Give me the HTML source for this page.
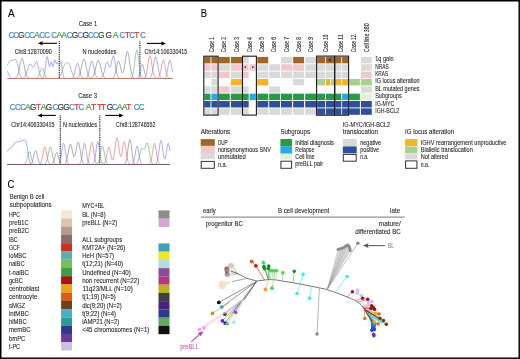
<!DOCTYPE html>
<html><head><meta charset="utf-8"><style>
html,body{margin:0;padding:0;background:#fff;}
body{width:520px;height:359px;overflow:hidden;position:relative;}
svg{position:absolute;left:0;top:0;will-change:transform;font-family:"Liberation Sans",sans-serif;}
.frame{position:absolute;left:0;top:0;width:520px;height:359px;box-sizing:border-box;border-top:1px solid #000;border-left:1px solid #000;border-right:2px solid #000;border-bottom:2px solid #000;}
</style></head><body>
<svg width="520" height="359" viewBox="0 0 520 359">
<text x="8" y="17" font-size="11" fill="#000" stroke="#000" stroke-width="0.1" text-anchor="start" textLength="6.60" lengthAdjust="spacingAndGlyphs" >A</text>
<text x="78.8" y="25.9" font-size="7.4" fill="#231f20" stroke="#231f20" stroke-width="0.1" text-anchor="start" textLength="18.40" lengthAdjust="spacingAndGlyphs" >Case 1</text>
<text x="78.3" y="98.4" font-size="7.4" fill="#231f20" stroke="#231f20" stroke-width="0.1" text-anchor="start" textLength="18.70" lengthAdjust="spacingAndGlyphs" >Case 3</text>
<text x="8.55" y="37.6" font-size="9.2" fill="#4a86c6" stroke="#4a86c6" stroke-width="0.2" textLength="5.71" lengthAdjust="spacingAndGlyphs">C</text>
<text x="13.15" y="37.6" font-size="9.2" fill="#4a86c6" stroke="#4a86c6" stroke-width="0.2" textLength="5.71" lengthAdjust="spacingAndGlyphs">C</text>
<text x="18.05" y="37.6" font-size="9.2" fill="#3a3a3a" stroke="#3a3a3a" stroke-width="0.2" textLength="6.44" lengthAdjust="spacingAndGlyphs">G</text>
<text x="24.15" y="37.6" font-size="9.2" fill="#4a86c6" stroke="#4a86c6" stroke-width="0.2" textLength="5.71" lengthAdjust="spacingAndGlyphs">C</text>
<text x="29.05" y="37.6" font-size="9.2" fill="#4a86c6" stroke="#4a86c6" stroke-width="0.2" textLength="5.71" lengthAdjust="spacingAndGlyphs">C</text>
<text x="34.00" y="37.6" font-size="9.2" fill="#3fa047" stroke="#3fa047" stroke-width="0.2" textLength="5.83" lengthAdjust="spacingAndGlyphs">A</text>
<text x="39.25" y="37.6" font-size="9.2" fill="#4a86c6" stroke="#4a86c6" stroke-width="0.2" textLength="5.71" lengthAdjust="spacingAndGlyphs">C</text>
<text x="44.15" y="37.6" font-size="9.2" fill="#4a86c6" stroke="#4a86c6" stroke-width="0.2" textLength="5.71" lengthAdjust="spacingAndGlyphs">C</text>
<text x="51.15" y="37.6" font-size="9.2" fill="#4a86c6" stroke="#4a86c6" stroke-width="0.2" textLength="5.71" lengthAdjust="spacingAndGlyphs">C</text>
<text x="56.40" y="37.6" font-size="9.2" fill="#3fa047" stroke="#3fa047" stroke-width="0.2" textLength="5.83" lengthAdjust="spacingAndGlyphs">A</text>
<text x="61.20" y="37.6" font-size="9.2" fill="#3fa047" stroke="#3fa047" stroke-width="0.2" textLength="5.83" lengthAdjust="spacingAndGlyphs">A</text>
<text x="66.85" y="37.6" font-size="9.2" fill="#4a86c6" stroke="#4a86c6" stroke-width="0.2" textLength="5.71" lengthAdjust="spacingAndGlyphs">C</text>
<text x="71.75" y="37.6" font-size="9.2" fill="#3a3a3a" stroke="#3a3a3a" stroke-width="0.2" textLength="6.44" lengthAdjust="spacingAndGlyphs">G</text>
<text x="77.55" y="37.6" font-size="9.2" fill="#4a86c6" stroke="#4a86c6" stroke-width="0.2" textLength="5.71" lengthAdjust="spacingAndGlyphs">C</text>
<text x="82.45" y="37.6" font-size="9.2" fill="#3a3a3a" stroke="#3a3a3a" stroke-width="0.2" textLength="6.44" lengthAdjust="spacingAndGlyphs">G</text>
<text x="88.05" y="37.6" font-size="9.2" fill="#4a86c6" stroke="#4a86c6" stroke-width="0.2" textLength="5.71" lengthAdjust="spacingAndGlyphs">C</text>
<text x="92.95" y="37.6" font-size="9.2" fill="#4a86c6" stroke="#4a86c6" stroke-width="0.2" textLength="5.71" lengthAdjust="spacingAndGlyphs">C</text>
<text x="97.95" y="37.6" font-size="9.2" fill="#3a3a3a" stroke="#3a3a3a" stroke-width="0.2" textLength="6.44" lengthAdjust="spacingAndGlyphs">G</text>
<text x="105.45" y="37.6" font-size="9.2" fill="#3a3a3a" stroke="#3a3a3a" stroke-width="0.2" textLength="6.44" lengthAdjust="spacingAndGlyphs">G</text>
<text x="112.70" y="37.6" font-size="9.2" fill="#3fa047" stroke="#3fa047" stroke-width="0.2" textLength="5.83" lengthAdjust="spacingAndGlyphs">A</text>
<text x="119.45" y="37.6" font-size="9.2" fill="#4a86c6" stroke="#4a86c6" stroke-width="0.2" textLength="5.71" lengthAdjust="spacingAndGlyphs">C</text>
<text x="125.10" y="37.6" font-size="9.2" fill="#e0322d" stroke="#e0322d" stroke-width="0.2" textLength="5.06" lengthAdjust="spacingAndGlyphs">T</text>
<text x="129.25" y="37.6" font-size="9.2" fill="#4a86c6" stroke="#4a86c6" stroke-width="0.2" textLength="5.71" lengthAdjust="spacingAndGlyphs">C</text>
<text x="134.30" y="37.6" font-size="9.2" fill="#e0322d" stroke="#e0322d" stroke-width="0.2" textLength="5.06" lengthAdjust="spacingAndGlyphs">T</text>
<text x="140.35" y="37.6" font-size="9.2" fill="#4a86c6" stroke="#4a86c6" stroke-width="0.2" textLength="5.71" lengthAdjust="spacingAndGlyphs">C</text>
<text x="9.75" y="109.6" font-size="9.2" fill="#4a86c6" stroke="#4a86c6" stroke-width="0.2" textLength="5.71" lengthAdjust="spacingAndGlyphs">C</text>
<text x="15.05" y="109.6" font-size="9.2" fill="#4a86c6" stroke="#4a86c6" stroke-width="0.2" textLength="5.71" lengthAdjust="spacingAndGlyphs">C</text>
<text x="20.15" y="109.6" font-size="9.2" fill="#4a86c6" stroke="#4a86c6" stroke-width="0.2" textLength="5.71" lengthAdjust="spacingAndGlyphs">C</text>
<text x="25.10" y="109.6" font-size="9.2" fill="#3fa047" stroke="#3fa047" stroke-width="0.2" textLength="5.83" lengthAdjust="spacingAndGlyphs">A</text>
<text x="30.05" y="109.6" font-size="9.2" fill="#3a3a3a" stroke="#3a3a3a" stroke-width="0.2" textLength="6.44" lengthAdjust="spacingAndGlyphs">G</text>
<text x="36.00" y="109.6" font-size="9.2" fill="#e0322d" stroke="#e0322d" stroke-width="0.2" textLength="5.06" lengthAdjust="spacingAndGlyphs">T</text>
<text x="40.70" y="109.6" font-size="9.2" fill="#3fa047" stroke="#3fa047" stroke-width="0.2" textLength="5.83" lengthAdjust="spacingAndGlyphs">A</text>
<text x="45.85" y="109.6" font-size="9.2" fill="#3a3a3a" stroke="#3a3a3a" stroke-width="0.2" textLength="6.44" lengthAdjust="spacingAndGlyphs">G</text>
<text x="52.55" y="109.6" font-size="9.2" fill="#4a86c6" stroke="#4a86c6" stroke-width="0.2" textLength="5.71" lengthAdjust="spacingAndGlyphs">C</text>
<text x="57.45" y="109.6" font-size="9.2" fill="#3a3a3a" stroke="#3a3a3a" stroke-width="0.2" textLength="6.44" lengthAdjust="spacingAndGlyphs">G</text>
<text x="63.25" y="109.6" font-size="9.2" fill="#3a3a3a" stroke="#3a3a3a" stroke-width="0.2" textLength="6.44" lengthAdjust="spacingAndGlyphs">G</text>
<text x="69.05" y="109.6" font-size="9.2" fill="#4a86c6" stroke="#4a86c6" stroke-width="0.2" textLength="5.71" lengthAdjust="spacingAndGlyphs">C</text>
<text x="74.30" y="109.6" font-size="9.2" fill="#e0322d" stroke="#e0322d" stroke-width="0.2" textLength="5.06" lengthAdjust="spacingAndGlyphs">T</text>
<text x="78.45" y="109.6" font-size="9.2" fill="#4a86c6" stroke="#4a86c6" stroke-width="0.2" textLength="5.71" lengthAdjust="spacingAndGlyphs">C</text>
<text x="85.80" y="109.6" font-size="9.2" fill="#3fa047" stroke="#3fa047" stroke-width="0.2" textLength="5.83" lengthAdjust="spacingAndGlyphs">A</text>
<text x="91.00" y="109.6" font-size="9.2" fill="#e0322d" stroke="#e0322d" stroke-width="0.2" textLength="5.06" lengthAdjust="spacingAndGlyphs">T</text>
<text x="97.20" y="109.6" font-size="9.2" fill="#e0322d" stroke="#e0322d" stroke-width="0.2" textLength="5.06" lengthAdjust="spacingAndGlyphs">T</text>
<text x="101.10" y="109.6" font-size="9.2" fill="#e0322d" stroke="#e0322d" stroke-width="0.2" textLength="5.06" lengthAdjust="spacingAndGlyphs">T</text>
<text x="106.85" y="109.6" font-size="9.2" fill="#3a3a3a" stroke="#3a3a3a" stroke-width="0.2" textLength="6.44" lengthAdjust="spacingAndGlyphs">G</text>
<text x="111.85" y="109.6" font-size="9.2" fill="#4a86c6" stroke="#4a86c6" stroke-width="0.2" textLength="5.71" lengthAdjust="spacingAndGlyphs">C</text>
<text x="116.80" y="109.6" font-size="9.2" fill="#3fa047" stroke="#3fa047" stroke-width="0.2" textLength="5.83" lengthAdjust="spacingAndGlyphs">A</text>
<text x="121.80" y="109.6" font-size="9.2" fill="#3fa047" stroke="#3fa047" stroke-width="0.2" textLength="5.83" lengthAdjust="spacingAndGlyphs">A</text>
<text x="126.30" y="109.6" font-size="9.2" fill="#e0322d" stroke="#e0322d" stroke-width="0.2" textLength="5.06" lengthAdjust="spacingAndGlyphs">T</text>
<text x="133.75" y="109.6" font-size="9.2" fill="#4a86c6" stroke="#4a86c6" stroke-width="0.2" textLength="5.71" lengthAdjust="spacingAndGlyphs">C</text>
<text x="138.75" y="109.6" font-size="9.2" fill="#4a86c6" stroke="#4a86c6" stroke-width="0.2" textLength="5.71" lengthAdjust="spacingAndGlyphs">C</text>
<text x="14.7" y="53.6" font-size="6.6" fill="#231f20" stroke="#231f20" stroke-width="0.1" text-anchor="start" textLength="37.10" lengthAdjust="spacingAndGlyphs" >Chr8:12870090</text>
<text x="82.4" y="53.8" font-size="6.6" fill="#231f20" stroke="#231f20" stroke-width="0.1" text-anchor="start" textLength="33.90" lengthAdjust="spacingAndGlyphs" >N nucleotides</text>
<text x="144.6" y="54.0" font-size="6.6" fill="#231f20" stroke="#231f20" stroke-width="0.1" text-anchor="start" textLength="42.70" lengthAdjust="spacingAndGlyphs" >Chr14:106330415</text>
<text x="11.3" y="126.7" font-size="6.6" fill="#231f20" stroke="#231f20" stroke-width="0.1" text-anchor="start" textLength="43.20" lengthAdjust="spacingAndGlyphs" >Chr14:406330415</text>
<text x="63" y="126.7" font-size="6.6" fill="#231f20" stroke="#231f20" stroke-width="0.1" text-anchor="start" textLength="34.00" lengthAdjust="spacingAndGlyphs" >N nucleotides</text>
<text x="116.1" y="126.7" font-size="6.6" fill="#231f20" stroke="#231f20" stroke-width="0.1" text-anchor="start" textLength="39.30" lengthAdjust="spacingAndGlyphs" >Chr8:128746552</text>
<line x1="41" y1="43.3" x2="57" y2="43.3" stroke="#000" stroke-width="1.1"/>
<path d="M38,43.3 L42.5,41.3 L42.5,45.3 Z" fill="#000"/>
<line x1="146.9" y1="43.4" x2="163" y2="43.4" stroke="#000" stroke-width="1.1"/>
<path d="M166,43.4 L161.5,41.4 L161.5,45.4 Z" fill="#000"/>
<line x1="40.5" y1="115.4" x2="55.8" y2="115.4" stroke="#000" stroke-width="1.1"/>
<path d="M37.5,115.4 L42.0,113.4 L42.0,117.4 Z" fill="#000"/>
<line x1="105.2" y1="115.4" x2="120.6" y2="115.4" stroke="#000" stroke-width="1.1"/>
<path d="M123.6,115.4 L119.1,113.4 L119.1,117.4 Z" fill="#000"/>
<line x1="59.3" y1="41.3" x2="59.3" y2="78" stroke="#111" stroke-width="1.1" stroke-dasharray="1 0.8"/>
<line x1="139.9" y1="41.4" x2="139.9" y2="77.8" stroke="#111" stroke-width="1.1" stroke-dasharray="1 0.8"/>
<line x1="60.3" y1="115.4" x2="60.3" y2="164.3" stroke="#111" stroke-width="1.1" stroke-dasharray="1 0.8"/>
<line x1="99.8" y1="115.4" x2="99.8" y2="164.3" stroke="#111" stroke-width="1.1" stroke-dasharray="1 0.8"/>
<polyline points="7.5,65.41 8.0,63.93 8.5,62.76 9.0,61.88 9.5,61.25 10.0,60.81 10.5,60.50 11.0,60.29 11.5,60.18 12.0,60.14 12.5,60.16 13.0,60.18 13.5,60.13 14.0,60.00 14.5,59.78 15.0,59.58 15.5,59.54 16.0,59.84 16.5,60.62 17.0,61.96 17.5,63.81 18.0,66.02 18.5,68.41 19.0,70.73 19.5,72.83 20.0,74.57 20.5,75.91 21.0,76.88 21.5,77.52 22.0,77.90 22.5,78.08 23.0,78.10 23.5,77.97 24.0,77.70 24.5,77.26 25.0,76.61 25.5,75.72 26.0,74.57 26.5,73.17 27.0,71.54 27.5,69.79 28.0,68.03 28.5,66.42 29.0,65.10 29.5,64.22 30.0,63.85 30.5,63.99 31.0,64.56 31.5,65.41 32.0,66.30 32.5,67.01 33.0,67.31 33.5,67.10 34.0,66.33 34.5,65.14 35.0,63.77 35.5,62.51 36.0,61.68 36.5,61.54 37.0,62.19 37.5,63.59 38.0,65.57 38.5,67.88 39.0,70.24 39.5,72.42 40.0,74.27 40.5,75.71 41.0,76.75 41.5,77.45 42.0,77.84 42.5,77.97 43.0,77.77 43.5,77.13 44.0,75.82 44.5,73.61 45.0,70.40 45.5,66.39 46.0,62.16 46.5,58.62 47.0,56.67 47.5,56.85 48.0,59.00 48.5,62.26 49.0,65.27 49.5,66.75 50.0,66.12 50.5,64.05 51.0,62.21 51.5,62.12 52.0,63.87 52.5,65.99 53.0,66.66 53.5,65.17 54.0,62.40 54.5,60.13 55.0,59.75 55.5,61.24 56.0,63.16 56.5,63.92 57.0,63.28 57.5,62.58 58.0,63.06 58.5,64.32 59.0,64.86 59.5,63.94 60.0,62.30 60.5,61.37 61.0,62.13 61.5,64.61 62.0,68.08 62.5,71.61 63.0,74.47 63.5,76.42 64.0,77.56 64.5,78.12 65.0,78.37 65.5,78.46 66.0,78.49 66.5,78.50 67.0,78.50 67.5,78.50 68.0,78.50 68.5,78.50 69.0,78.50 69.5,78.49 70.0,78.49 70.5,78.46 71.0,78.42 71.5,78.32 72.0,78.13 72.5,77.79 73.0,77.21 73.5,76.32 74.0,75.02 74.5,73.30 75.0,71.21 75.5,68.91 76.0,66.66 76.5,64.79 77.0,63.61 77.5,63.32 78.0,63.98 78.5,65.47 79.0,67.53 79.5,69.84 80.0,72.08 80.5,74.04 81.0,75.59 81.5,76.72 82.0,77.48 82.5,77.95 83.0,78.22 83.5,78.36 84.0,78.42 84.5,78.43 85.0,78.39 85.5,78.28 86.0,78.08 86.5,77.73 87.0,77.15 87.5,76.26 88.0,74.98 88.5,73.28 89.0,71.18 89.5,68.78 90.0,66.29 90.5,64.00 91.0,62.20 91.5,61.17 92.0,61.08 92.5,61.93 93.0,63.59 93.5,65.81 94.0,68.28 94.5,70.71 95.0,72.89 95.5,74.68 96.0,76.03 96.5,77.00 97.0,77.63 97.5,78.03 98.0,78.25 98.5,78.38 99.0,78.43 99.5,78.44 100.0,78.42 100.5,78.35 101.0,78.20 101.5,77.93 102.0,77.47 102.5,76.76 103.0,75.71 103.5,74.27 104.0,72.43 104.5,70.26 105.0,67.92 105.5,65.64 106.0,63.71 106.5,62.40 107.0,61.88 107.5,62.19 108.0,63.19 108.5,64.60 109.0,66.02 109.5,67.03 110.0,67.28 110.5,66.57 111.0,64.92 111.5,62.56 112.0,59.95 112.5,57.64 113.0,56.15 113.5,55.88 114.0,56.94 114.5,59.19 115.0,62.25 115.5,65.67 116.0,69.00 116.5,71.89 117.0,74.19 117.5,75.86 118.0,76.99 118.5,77.68 119.0,78.09 119.5,78.30 120.0,78.41 120.5,78.46 121.0,78.49 121.5,78.49 122.0,78.50 122.5,78.50 123.0,78.50 123.5,78.50 124.0,78.50 124.5,78.50 125.0,78.50 125.5,78.50 126.0,78.50 126.5,78.50 127.0,78.50 127.5,78.50 128.0,78.50 128.5,78.50 129.0,78.50 129.5,78.50 130.0,78.50 130.5,78.50 131.0,78.50 131.5,78.50 132.0,78.50 132.5,78.50 133.0,78.50 133.5,78.50 134.0,78.50 134.5,78.50 135.0,78.49 135.5,78.48 136.0,78.45 136.5,78.38 137.0,78.24 137.5,77.96 138.0,77.45 138.5,76.61 139.0,75.36 139.5,73.64 140.0,71.51 140.5,69.17 141.0,66.94 141.5,65.20 142.0,64.28 142.5,64.39 143.0,65.49 143.5,67.36 144.0,69.65 144.5,71.96 145.0,74.02 145.5,75.64 146.0,76.81 146.5,77.57 147.0,78.02 147.5,78.26 148.0,78.37 148.5,78.39 149.0,78.34 149.5,78.19 150.0,77.91 150.5,77.42 151.0,76.64 151.5,75.44 152.0,73.76 152.5,71.54 153.0,68.85 153.5,65.83 154.0,62.76 154.5,60.01 155.0,57.95 155.5,56.90 156.0,57.02 156.5,58.29 157.0,60.52 157.5,63.36 158.0,66.44 158.5,69.42 159.0,72.03 159.5,74.14 160.0,75.72 160.5,76.82 161.0,77.54 161.5,77.98 162.0,78.23 162.5,78.37 163.0,78.42 163.5,78.42 164.0,78.36 164.5,78.21 165.0,77.89 165.5,77.31 166.0,76.34 166.5,74.85 167.0,72.76 167.5,70.13 168.0,67.17 168.5,64.25 169.0,61.85 169.5,60.44 170.0,60.31 170.5,61.48 171.0,63.71 171.5,66.57 172.0,69.56 172.5,72.28" fill="none" stroke="#7474f2" stroke-width="0.6"/>
<polyline points="7.5,78.50 8.0,78.50 8.5,78.50 9.0,78.50 9.5,78.50 10.0,78.50 10.5,78.50 11.0,78.50 11.5,78.50 12.0,78.50 12.5,78.50 13.0,78.49 13.5,78.48 14.0,78.46 14.5,78.42 15.0,78.33 15.5,78.17 16.0,77.90 16.5,77.44 17.0,76.73 17.5,75.69 18.0,74.24 18.5,72.36 19.0,70.07 19.5,67.47 20.0,64.76 20.5,62.20 21.0,60.09 21.5,58.69 22.0,58.20 22.5,58.69 23.0,60.09 23.5,62.20 24.0,64.76 24.5,67.47 25.0,70.07 25.5,72.36 26.0,74.24 26.5,75.69 27.0,76.73 27.5,77.44 28.0,77.90 28.5,78.17 29.0,78.33 29.5,78.42 30.0,78.46 30.5,78.48 31.0,78.49 31.5,78.50 32.0,78.50 32.5,78.50 33.0,78.50 33.5,78.50 34.0,78.50 34.5,78.50 35.0,78.50 35.5,78.50 36.0,78.50 36.5,78.50 37.0,78.50 37.5,78.50 38.0,78.50 38.5,78.50 39.0,78.50 39.5,78.50 40.0,78.50 40.5,78.50 41.0,78.50 41.5,78.50 42.0,78.50 42.5,78.50 43.0,78.50 43.5,78.50 44.0,78.50 44.5,78.50 45.0,78.50 45.5,78.50 46.0,78.50 46.5,78.50 47.0,78.50 47.5,78.50 48.0,78.50 48.5,78.50 49.0,78.50 49.5,78.50 50.0,78.50 50.5,78.50 51.0,78.50 51.5,78.50 52.0,78.50 52.5,78.50 53.0,78.50 53.5,78.50 54.0,78.50 54.5,78.50 55.0,78.50 55.5,78.50 56.0,78.50 56.5,78.50 57.0,78.50 57.5,78.50 58.0,78.50 58.5,78.50 59.0,78.50 59.5,78.50 60.0,78.50 60.5,78.50 61.0,78.50 61.5,78.50 62.0,78.50 62.5,78.50 63.0,78.50 63.5,78.50 64.0,78.50 64.5,78.50 65.0,78.50 65.5,78.50 66.0,78.50 66.5,78.50 67.0,78.50 67.5,78.50 68.0,78.50 68.5,78.50 69.0,78.50 69.5,78.50 70.0,78.50 70.5,78.50 71.0,78.50 71.5,78.50 72.0,78.50 72.5,78.50 73.0,78.50 73.5,78.50 74.0,78.50 74.5,78.49 75.0,78.49 75.5,78.47 76.0,78.44 76.5,78.37 77.0,78.25 77.5,78.04 78.0,77.70 78.5,77.15 79.0,76.34 79.5,75.19 80.0,73.65 80.5,71.72 81.0,69.45 81.5,66.95 82.0,64.43 82.5,62.13 83.0,60.30 83.5,59.19 84.0,58.92 84.5,59.54 85.0,60.96 85.5,63.01 86.0,65.43 86.5,67.96 87.0,70.39 87.5,72.54 88.0,74.31 88.5,75.68 89.0,76.69 89.5,77.37 90.0,77.79 90.5,78.01 91.0,78.08 91.5,77.99 92.0,77.74 92.5,77.32 93.0,76.66 93.5,75.74 94.0,74.50 94.5,72.93 95.0,71.06 95.5,68.96 96.0,66.75 96.5,64.61 97.0,62.73 97.5,61.32 98.0,60.53 98.5,60.46 99.0,61.11 99.5,62.41 100.0,64.20 100.5,66.31 101.0,68.52 101.5,70.65 102.0,72.58 102.5,74.21 103.0,75.52 103.5,76.51 104.0,77.22 104.5,77.71 105.0,78.04 105.5,78.24 106.0,78.36 106.5,78.43 107.0,78.46 107.5,78.48 108.0,78.49 108.5,78.50 109.0,78.50 109.5,78.50 110.0,78.49 110.5,78.49 111.0,78.47 111.5,78.42 112.0,78.34 112.5,78.18 113.0,77.89 113.5,77.41 114.0,76.66 114.5,75.54 115.0,74.01 115.5,72.06 116.0,69.76 116.5,67.28 117.0,64.87 117.5,62.84 118.0,61.47 118.5,60.99 119.0,61.45 119.5,62.78 120.0,64.74 120.5,67.02 121.0,69.27 121.5,71.16 122.0,72.45 122.5,72.95 123.0,72.58 123.5,71.30 124.0,69.16 124.5,66.30 125.0,62.96 125.5,59.45 126.0,56.17 126.5,53.54 127.0,51.91 127.5,51.52 128.0,52.43 128.5,54.51 129.0,57.47 129.5,60.95 130.0,64.55 130.5,67.94 131.0,70.88 131.5,73.27 132.0,75.08 132.5,76.37 133.0,77.24 133.5,77.79 134.0,78.12 134.5,78.30 135.0,78.40 135.5,78.46 136.0,78.48 136.5,78.49 137.0,78.50 137.5,78.50 138.0,78.50 138.5,78.50 139.0,78.50 139.5,78.50 140.0,78.50 140.5,78.50 141.0,78.50 141.5,78.50 142.0,78.50 142.5,78.50 143.0,78.50 143.5,78.50 144.0,78.50 144.5,78.50 145.0,78.50 145.5,78.50 146.0,78.50 146.5,78.50 147.0,78.50 147.5,78.50 148.0,78.50 148.5,78.50 149.0,78.50 149.5,78.50 150.0,78.50 150.5,78.50 151.0,78.50 151.5,78.50 152.0,78.50 152.5,78.50 153.0,78.50 153.5,78.50 154.0,78.50 154.5,78.50 155.0,78.50 155.5,78.50 156.0,78.50 156.5,78.50 157.0,78.50 157.5,78.50 158.0,78.50 158.5,78.50 159.0,78.50 159.5,78.50 160.0,78.50 160.5,78.50 161.0,78.50 161.5,78.50 162.0,78.50 162.5,78.50 163.0,78.50 163.5,78.50 164.0,78.50 164.5,78.50 165.0,78.50 165.5,78.50 166.0,78.50 166.5,78.50 167.0,78.50 167.5,78.50 168.0,78.50 168.5,78.50 169.0,78.50 169.5,78.50 170.0,78.50 170.5,78.50 171.0,78.50 171.5,78.50 172.0,78.50 172.5,78.50" fill="none" stroke="#757575" stroke-width="0.6"/>
<polyline points="7.5,71.26 8.0,72.57 8.5,74.02 9.0,75.37 9.5,76.49 10.0,77.30 10.5,77.84 11.0,78.17 11.5,78.34 12.0,78.43 12.5,78.47 13.0,78.49 13.5,78.50 14.0,78.50 14.5,78.50 15.0,78.50 15.5,78.50 16.0,78.50 16.5,78.50 17.0,78.50 17.5,78.50 18.0,78.50 18.5,78.50 19.0,78.50 19.5,78.50 20.0,78.50 20.5,78.50 21.0,78.50 21.5,78.50 22.0,78.50 22.5,78.50 23.0,78.50 23.5,78.50 24.0,78.50 24.5,78.50 25.0,78.50 25.5,78.50 26.0,78.50 26.5,78.50 27.0,78.50 27.5,78.50 28.0,78.50 28.5,78.50 29.0,78.50 29.5,78.50 30.0,78.50 30.5,78.50 31.0,78.50 31.5,78.50 32.0,78.50 32.5,78.50 33.0,78.50 33.5,78.50 34.0,78.49 34.5,78.48 35.0,78.46 35.5,78.41 36.0,78.31 36.5,78.15 37.0,77.87 37.5,77.42 38.0,76.78 38.5,75.88 39.0,74.75 39.5,73.41 40.0,71.96 40.5,70.56 41.0,69.37 41.5,68.58 42.0,68.30 42.5,68.58 43.0,69.37 43.5,70.56 44.0,71.96 44.5,73.41 45.0,74.75 45.5,75.88 46.0,76.78 46.5,77.42 47.0,77.87 47.5,78.15 48.0,78.31 48.5,78.41 49.0,78.46 49.5,78.48 50.0,78.49 50.5,78.50 51.0,78.50 51.5,78.50 52.0,78.50 52.5,78.50 53.0,78.50 53.5,78.50 54.0,78.50 54.5,78.50 55.0,78.49 55.5,78.48 56.0,78.47 56.5,78.44 57.0,78.38 57.5,78.29 58.0,78.13 58.5,77.89 59.0,77.52 59.5,77.00 60.0,76.28 60.5,75.35 61.0,74.20 61.5,72.86 62.0,71.37 62.5,69.81 63.0,68.27 63.5,66.84 64.0,65.61 64.5,64.61 65.0,63.85 65.5,63.30 66.0,62.93 66.5,62.70 67.0,62.58 67.5,62.58 68.0,62.75 68.5,63.14 69.0,63.80 69.5,64.76 70.0,66.01 70.5,67.49 71.0,69.12 71.5,70.78 72.0,72.39 72.5,73.84 73.0,75.08 73.5,76.09 74.0,76.87 74.5,77.44 75.0,77.84 75.5,78.10 76.0,78.27 76.5,78.37 77.0,78.43 77.5,78.47 78.0,78.48 78.5,78.49 79.0,78.50 79.5,78.50 80.0,78.50 80.5,78.50 81.0,78.50 81.5,78.50 82.0,78.50 82.5,78.50 83.0,78.50 83.5,78.50 84.0,78.50 84.5,78.50 85.0,78.50 85.5,78.50 86.0,78.50 86.5,78.50 87.0,78.50 87.5,78.50 88.0,78.50 88.5,78.50 89.0,78.50 89.5,78.50 90.0,78.50 90.5,78.50 91.0,78.50 91.5,78.50 92.0,78.50 92.5,78.50 93.0,78.50 93.5,78.50 94.0,78.50 94.5,78.50 95.0,78.50 95.5,78.50 96.0,78.50 96.5,78.50 97.0,78.50 97.5,78.50 98.0,78.50 98.5,78.50 99.0,78.50 99.5,78.50 100.0,78.50 100.5,78.50 101.0,78.50 101.5,78.50 102.0,78.50 102.5,78.50 103.0,78.50 103.5,78.50 104.0,78.50 104.5,78.50 105.0,78.50 105.5,78.50 106.0,78.50 106.5,78.50 107.0,78.50 107.5,78.50 108.0,78.50 108.5,78.50 109.0,78.50 109.5,78.50 110.0,78.50 110.5,78.50 111.0,78.50 111.5,78.50 112.0,78.50 112.5,78.50 113.0,78.50 113.5,78.50 114.0,78.50 114.5,78.50 115.0,78.50 115.5,78.50 116.0,78.50 116.5,78.50 117.0,78.50 117.5,78.50 118.0,78.50 118.5,78.50 119.0,78.50 119.5,78.50 120.0,78.50 120.5,78.50 121.0,78.50 121.5,78.50 122.0,78.50 122.5,78.50 123.0,78.50 123.5,78.50 124.0,78.50 124.5,78.50 125.0,78.50 125.5,78.50 126.0,78.50 126.5,78.50 127.0,78.50 127.5,78.50 128.0,78.50 128.5,78.50 129.0,78.49 129.5,78.47 130.0,78.42 130.5,78.32 131.0,78.11 131.5,77.71 132.0,77.00 132.5,75.81 133.0,74.00 133.5,71.42 134.0,68.05 134.5,64.04 135.0,59.71 135.5,55.61 136.0,52.33 136.5,50.42 137.0,50.24 137.5,51.82 138.0,54.87 138.5,58.86 139.0,63.18 139.5,67.29 140.0,70.81 140.5,73.55 141.0,75.51 141.5,76.80 142.0,77.60 142.5,78.05 143.0,78.29 143.5,78.41 144.0,78.46 144.5,78.49 145.0,78.49 145.5,78.50 146.0,78.50 146.5,78.50 147.0,78.50 147.5,78.50 148.0,78.50 148.5,78.50 149.0,78.50 149.5,78.50 150.0,78.50 150.5,78.50 151.0,78.50 151.5,78.50 152.0,78.50 152.5,78.50 153.0,78.50 153.5,78.50 154.0,78.50 154.5,78.50 155.0,78.50 155.5,78.50 156.0,78.50 156.5,78.50 157.0,78.50 157.5,78.50 158.0,78.50 158.5,78.50 159.0,78.50 159.5,78.50 160.0,78.50 160.5,78.50 161.0,78.50 161.5,78.50 162.0,78.50 162.5,78.50 163.0,78.50 163.5,78.50 164.0,78.50 164.5,78.50 165.0,78.50 165.5,78.50 166.0,78.50 166.5,78.50 167.0,78.50 167.5,78.50 168.0,78.50 168.5,78.50 169.0,78.50 169.5,78.50 170.0,78.50 170.5,78.50 171.0,78.50 171.5,78.50 172.0,78.50 172.5,78.50" fill="none" stroke="#5aa870" stroke-width="0.6"/>
<polyline points="7.5,78.50 8.0,78.50 8.5,78.50 9.0,78.50 9.5,78.50 10.0,78.50 10.5,78.50 11.0,78.50 11.5,78.50 12.0,78.50 12.5,78.50 13.0,78.50 13.5,78.50 14.0,78.50 14.5,78.50 15.0,78.50 15.5,78.50 16.0,78.50 16.5,78.50 17.0,78.50 17.5,78.50 18.0,78.50 18.5,78.50 19.0,78.50 19.5,78.50 20.0,78.50 20.5,78.50 21.0,78.50 21.5,78.50 22.0,78.50 22.5,78.50 23.0,78.50 23.5,78.50 24.0,78.50 24.5,78.50 25.0,78.50 25.5,78.50 26.0,78.50 26.5,78.50 27.0,78.50 27.5,78.50 28.0,78.50 28.5,78.50 29.0,78.50 29.5,78.50 30.0,78.50 30.5,78.50 31.0,78.50 31.5,78.50 32.0,78.50 32.5,78.50 33.0,78.50 33.5,78.50 34.0,78.50 34.5,78.50 35.0,78.50 35.5,78.50 36.0,78.50 36.5,78.50 37.0,78.50 37.5,78.50 38.0,78.50 38.5,78.50 39.0,78.50 39.5,78.50 40.0,78.50 40.5,78.50 41.0,78.50 41.5,78.50 42.0,78.50 42.5,78.50 43.0,78.50 43.5,78.50 44.0,78.50 44.5,78.50 45.0,78.50 45.5,78.50 46.0,78.50 46.5,78.50 47.0,78.50 47.5,78.50 48.0,78.50 48.5,78.50 49.0,78.50 49.5,78.50 50.0,78.50 50.5,78.50 51.0,78.50 51.5,78.50 52.0,78.50 52.5,78.50 53.0,78.50 53.5,78.50 54.0,78.50 54.5,78.50 55.0,78.50 55.5,78.50 56.0,78.50 56.5,78.50 57.0,78.50 57.5,78.50 58.0,78.50 58.5,78.50 59.0,78.50 59.5,78.50 60.0,78.50 60.5,78.50 61.0,78.50 61.5,78.50 62.0,78.50 62.5,78.50 63.0,78.50 63.5,78.50 64.0,78.50 64.5,78.50 65.0,78.50 65.5,78.50 66.0,78.50 66.5,78.50 67.0,78.50 67.5,78.50 68.0,78.50 68.5,78.50 69.0,78.50 69.5,78.50 70.0,78.50 70.5,78.50 71.0,78.50 71.5,78.50 72.0,78.50 72.5,78.50 73.0,78.50 73.5,78.50 74.0,78.50 74.5,78.50 75.0,78.50 75.5,78.50 76.0,78.50 76.5,78.50 77.0,78.50 77.5,78.50 78.0,78.50 78.5,78.50 79.0,78.50 79.5,78.50 80.0,78.50 80.5,78.50 81.0,78.50 81.5,78.50 82.0,78.50 82.5,78.50 83.0,78.50 83.5,78.50 84.0,78.50 84.5,78.50 85.0,78.50 85.5,78.50 86.0,78.50 86.5,78.50 87.0,78.50 87.5,78.50 88.0,78.50 88.5,78.50 89.0,78.50 89.5,78.50 90.0,78.50 90.5,78.50 91.0,78.50 91.5,78.50 92.0,78.50 92.5,78.50 93.0,78.50 93.5,78.50 94.0,78.50 94.5,78.50 95.0,78.50 95.5,78.50 96.0,78.50 96.5,78.50 97.0,78.50 97.5,78.50 98.0,78.50 98.5,78.50 99.0,78.50 99.5,78.50 100.0,78.50 100.5,78.50 101.0,78.50 101.5,78.50 102.0,78.50 102.5,78.50 103.0,78.50 103.5,78.50 104.0,78.50 104.5,78.50 105.0,78.50 105.5,78.50 106.0,78.50 106.5,78.50 107.0,78.50 107.5,78.50 108.0,78.50 108.5,78.50 109.0,78.50 109.5,78.50 110.0,78.50 110.5,78.50 111.0,78.50 111.5,78.50 112.0,78.50 112.5,78.50 113.0,78.50 113.5,78.50 114.0,78.50 114.5,78.50 115.0,78.50 115.5,78.50 116.0,78.50 116.5,78.50 117.0,78.50 117.5,78.50 118.0,78.50 118.5,78.50 119.0,78.50 119.5,78.50 120.0,78.50 120.5,78.50 121.0,78.50 121.5,78.50 122.0,78.50 122.5,78.50 123.0,78.50 123.5,78.50 124.0,78.50 124.5,78.50 125.0,78.50 125.5,78.50 126.0,78.50 126.5,78.50 127.0,78.50 127.5,78.50 128.0,78.50 128.5,78.50 129.0,78.50 129.5,78.50 130.0,78.50 130.5,78.50 131.0,78.50 131.5,78.50 132.0,78.50 132.5,78.50 133.0,78.50 133.5,78.50 134.0,78.50 134.5,78.50 135.0,78.50 135.5,78.50 136.0,78.50 136.5,78.50 137.0,78.50 137.5,78.50 138.0,78.50 138.5,78.50 139.0,78.50 139.5,78.50 140.0,78.50 140.5,78.50 141.0,78.50 141.5,78.50 142.0,78.49 142.5,78.48 143.0,78.45 143.5,78.38 144.0,78.23 144.5,77.94 145.0,77.42 145.5,76.55 146.0,75.19 146.5,73.24 147.0,70.63 147.5,67.47 148.0,63.99 148.5,60.59 149.0,57.76 149.5,55.96 150.0,55.53 150.5,56.53 151.0,58.79 151.5,61.91 152.0,65.39 152.5,68.79 153.0,71.75 153.5,74.10 154.0,75.80 154.5,76.95 155.0,77.66 155.5,78.07 156.0,78.28 156.5,78.36 157.0,78.35 157.5,78.23 158.0,77.99 158.5,77.53 159.0,76.77 159.5,75.60 160.0,73.94 160.5,71.77 161.0,69.18 161.5,66.39 162.0,63.75 162.5,61.63 163.0,60.41 163.5,60.29 164.0,61.31 164.5,63.27 165.0,65.84 165.5,68.63 166.0,71.28 166.5,73.54 167.0,75.31 167.5,76.57 168.0,77.41 168.5,77.92 169.0,78.21 169.5,78.36 170.0,78.44 170.5,78.48 171.0,78.49 171.5,78.50 172.0,78.50 172.5,78.50" fill="none" stroke="#f25e5e" stroke-width="0.6"/>
<line x1="7.5" y1="78.5" x2="172.5" y2="78.5" stroke="#c06a60" stroke-width="0.5"/>
<polyline points="7.3,164.50 7.8,164.50 8.3,164.50 8.8,164.50 9.3,164.50 9.8,164.50 10.3,164.50 10.8,164.50 11.3,164.50 11.8,164.50 12.3,164.50 12.8,164.50 13.3,164.50 13.8,164.50 14.3,164.50 14.8,164.50 15.3,164.50 15.8,164.50 16.3,164.50 16.8,164.50 17.3,164.50 17.8,164.50 18.3,164.50 18.8,164.50 19.3,164.50 19.8,164.50 20.3,164.50 20.8,164.50 21.3,164.50 21.8,164.50 22.3,164.50 22.8,164.50 23.3,164.50 23.8,164.50 24.3,164.50 24.8,164.50 25.3,164.50 25.8,164.50 26.3,164.50 26.8,164.50 27.3,164.50 27.8,164.50 28.3,164.50 28.8,164.50 29.3,164.50 29.8,164.50 30.3,164.50 30.8,164.50 31.3,164.50 31.8,164.50 32.3,164.50 32.8,164.50 33.3,164.50 33.8,164.50 34.3,164.50 34.8,164.50 35.3,164.50 35.8,164.50 36.3,164.50 36.8,164.50 37.3,164.50 37.8,164.50 38.3,164.50 38.8,164.50 39.3,164.50 39.8,164.50 40.3,164.50 40.8,164.50 41.3,164.50 41.8,164.50 42.3,164.50 42.8,164.50 43.3,164.50 43.8,164.50 44.3,164.50 44.8,164.50 45.3,164.50 45.8,164.50 46.3,164.50 46.8,164.50 47.3,164.50 47.8,164.50 48.3,164.50 48.8,164.50 49.3,164.50 49.8,164.50 50.3,164.50 50.8,164.50 51.3,164.50 51.8,164.50 52.3,164.50 52.8,164.50 53.3,164.50 53.8,164.50 54.3,164.50 54.8,164.50 55.3,164.50 55.8,164.50 56.3,164.49 56.8,164.48 57.3,164.44 57.8,164.35 58.3,164.17 58.8,163.80 59.3,163.12 59.8,162.00 60.3,160.27 60.8,157.85 61.3,154.81 61.8,151.37 62.3,147.99 62.8,145.22 63.3,143.58 63.8,143.43 64.3,144.78 64.8,147.37 65.3,150.67 65.8,154.14 66.3,157.29 66.8,159.84 67.3,161.70 67.8,162.94 68.3,163.69 68.8,164.11 69.3,164.33 69.8,164.43 70.3,164.47 70.8,164.49 71.3,164.50 71.8,164.50 72.3,164.50 72.8,164.50 73.3,164.50 73.8,164.50 74.3,164.50 74.8,164.50 75.3,164.50 75.8,164.50 76.3,164.50 76.8,164.50 77.3,164.49 77.8,164.47 78.3,164.43 78.8,164.33 79.3,164.11 79.8,163.69 80.3,162.94 80.8,161.70 81.3,159.84 81.8,157.29 82.3,154.14 82.8,150.67 83.3,147.37 83.8,144.78 84.3,143.43 84.8,143.58 85.3,145.22 85.8,147.99 86.3,151.37 86.8,154.81 87.3,157.85 87.8,160.27 88.3,162.00 88.8,163.12 89.3,163.80 89.8,164.17 90.3,164.35 90.8,164.43 91.3,164.45 91.8,164.42 92.3,164.32 92.8,164.08 93.3,163.60 93.8,162.72 94.3,161.26 94.8,159.05 95.3,156.04 95.8,152.37 96.3,148.45 96.8,144.90 97.3,142.40 97.8,141.50 98.3,142.40 98.8,144.90 99.3,148.45 99.8,152.37 100.3,156.04 100.8,159.05 101.3,161.26 101.8,162.72 102.3,163.60 102.8,164.08 103.3,164.32 103.8,164.43 104.3,164.47 104.8,164.49 105.3,164.50 105.8,164.50 106.3,164.50 106.8,164.50 107.3,164.50 107.8,164.50 108.3,164.50 108.8,164.50 109.3,164.50 109.8,164.50 110.3,164.50 110.8,164.50 111.3,164.50 111.8,164.50 112.3,164.50 112.8,164.50 113.3,164.50 113.8,164.50 114.3,164.50 114.8,164.50 115.3,164.50 115.8,164.50 116.3,164.50 116.8,164.50 117.3,164.50 117.8,164.50 118.3,164.50 118.8,164.50 119.3,164.50 119.8,164.50 120.3,164.50 120.8,164.50 121.3,164.50 121.8,164.50 122.3,164.50 122.8,164.50 123.3,164.50 123.8,164.50 124.3,164.50 124.8,164.50 125.3,164.50 125.8,164.50 126.3,164.50 126.8,164.50 127.3,164.50 127.8,164.50 128.3,164.50 128.8,164.50 129.3,164.50 129.8,164.50 130.3,164.49 130.8,164.47 131.3,164.41 131.8,164.29 132.3,164.04 132.8,163.54 133.3,162.66 133.8,161.26 134.3,159.22 134.8,156.56 135.3,153.48 135.8,150.38 136.3,147.80 136.8,146.26 137.3,146.12 137.8,147.40 138.3,149.81 138.8,152.85 139.3,155.97 139.8,158.74 140.3,160.91 140.8,162.43 141.3,163.40 141.8,163.96 142.3,164.26 142.8,164.40 143.3,164.46 143.8,164.49 144.3,164.50 144.8,164.50 145.3,164.50 145.8,164.50 146.3,164.50 146.8,164.50 147.3,164.50 147.8,164.50 148.3,164.50 148.8,164.50 149.3,164.50 149.8,164.50 150.3,164.50 150.8,164.50 151.3,164.50 151.8,164.50 152.3,164.50 152.8,164.50 153.3,164.50 153.8,164.49 154.3,164.46 154.8,164.40 155.3,164.27 155.8,163.99 156.3,163.45 156.8,162.50 157.3,160.97 157.8,158.71 158.3,155.67 158.8,152.00 159.3,148.07 159.8,144.43 160.3,141.74 160.8,140.53 161.3,141.06 161.8,143.19 162.3,146.49 162.8,150.30 163.3,153.94 163.8,156.85 164.3,158.65 164.8,159.12 165.3,158.21 165.8,156.01 166.3,152.85 166.8,149.28 167.3,146.03 167.8,143.86 168.3,143.33 168.8,144.58 169.3,147.32 169.8,150.91" fill="none" stroke="#7474f2" stroke-width="0.6"/>
<polyline points="7.3,164.50 7.8,164.50 8.3,164.50 8.8,164.50 9.3,164.50 9.8,164.50 10.3,164.50 10.8,164.50 11.3,164.50 11.8,164.50 12.3,164.50 12.8,164.50 13.3,164.50 13.8,164.50 14.3,164.50 14.8,164.50 15.3,164.50 15.8,164.50 16.3,164.50 16.8,164.50 17.3,164.50 17.8,164.50 18.3,164.50 18.8,164.50 19.3,164.50 19.8,164.50 20.3,164.50 20.8,164.50 21.3,164.50 21.8,164.50 22.3,164.50 22.8,164.50 23.3,164.50 23.8,164.50 24.3,164.50 24.8,164.50 25.3,164.50 25.8,164.50 26.3,164.50 26.8,164.50 27.3,164.50 27.8,164.50 28.3,164.49 28.8,164.49 29.3,164.46 29.8,164.40 30.3,164.28 30.8,164.04 31.3,163.60 31.8,162.86 32.3,161.72 32.8,160.14 33.3,158.14 33.8,155.89 34.3,153.67 34.8,151.86 35.3,150.78 35.8,150.68 36.3,151.57 36.8,153.27 37.3,155.44 37.8,157.71 38.3,159.77 38.8,161.44 39.3,162.67 39.8,163.48 40.3,163.97 40.8,164.25 41.3,164.39 41.8,164.45 42.3,164.48 42.8,164.49 43.3,164.50 43.8,164.50 44.3,164.50 44.8,164.50 45.3,164.50 45.8,164.50 46.3,164.50 46.8,164.50 47.3,164.50 47.8,164.50 48.3,164.50 48.8,164.50 49.3,164.50 49.8,164.49 50.3,164.47 50.8,164.43 51.3,164.34 51.8,164.15 52.3,163.81 52.8,163.22 53.3,162.31 53.8,161.01 54.3,159.34 54.8,157.41 55.3,155.45 55.8,153.77 56.3,152.68 56.8,152.42 57.3,153.03 57.8,154.38 58.3,156.21 58.8,158.20 59.3,160.05 59.8,161.58 60.3,162.72 60.8,163.49 61.3,163.97 61.8,164.24 62.3,164.37 62.8,164.42 63.3,164.41 63.8,164.33 64.3,164.17 64.8,163.88 65.3,163.37 65.8,162.57 66.3,161.36 66.8,159.69 67.3,157.52 67.8,154.92 68.3,152.06 68.8,149.22 69.3,146.75 69.8,144.99 70.3,144.20 70.8,144.51 71.3,145.84 71.8,147.94 72.3,150.45 72.8,152.93 73.3,154.99 73.8,156.31 74.3,156.68 74.8,156.02 75.3,154.41 75.8,152.05 76.3,149.28 76.8,146.51 77.3,144.20 77.8,142.74 78.3,142.40 78.8,143.26 79.3,145.18 79.8,147.87 80.3,150.96 80.8,154.07 81.3,156.90 81.8,159.26 82.3,161.09 82.8,162.39 83.3,163.27 83.8,163.82 84.3,164.15 84.8,164.33 85.3,164.42 85.8,164.46 86.3,164.48 86.8,164.49 87.3,164.50 87.8,164.50 88.3,164.50 88.8,164.50 89.3,164.50 89.8,164.50 90.3,164.50 90.8,164.50 91.3,164.50 91.8,164.50 92.3,164.50 92.8,164.50 93.3,164.50 93.8,164.50 94.3,164.50 94.8,164.50 95.3,164.50 95.8,164.50 96.3,164.50 96.8,164.50 97.3,164.50 97.8,164.50 98.3,164.50 98.8,164.50 99.3,164.50 99.8,164.50 100.3,164.50 100.8,164.50 101.3,164.50 101.8,164.50 102.3,164.50 102.8,164.50 103.3,164.50 103.8,164.50 104.3,164.50 104.8,164.50 105.3,164.50 105.8,164.50 106.3,164.50 106.8,164.50 107.3,164.50 107.8,164.50 108.3,164.50 108.8,164.50 109.3,164.50 109.8,164.50 110.3,164.50 110.8,164.50 111.3,164.50 111.8,164.50 112.3,164.50 112.8,164.50 113.3,164.50 113.8,164.50 114.3,164.50 114.8,164.50 115.3,164.50 115.8,164.50 116.3,164.50 116.8,164.50 117.3,164.50 117.8,164.50 118.3,164.50 118.8,164.50 119.3,164.50 119.8,164.50 120.3,164.50 120.8,164.50 121.3,164.50 121.8,164.50 122.3,164.49 122.8,164.48 123.3,164.45 123.8,164.38 124.3,164.22 124.8,163.88 125.3,163.25 125.8,162.17 126.3,160.43 126.8,157.92 127.3,154.62 127.8,150.72 128.3,146.65 128.8,143.02 129.3,140.50 129.8,139.60 130.3,140.50 130.8,143.02 131.3,146.65 131.8,150.72 132.3,154.62 132.8,157.92 133.3,160.43 133.8,162.17 134.3,163.25 134.8,163.88 135.3,164.22 135.8,164.38 136.3,164.45 136.8,164.48 137.3,164.49 137.8,164.50 138.3,164.50 138.8,164.50 139.3,164.50 139.8,164.50 140.3,164.50 140.8,164.50 141.3,164.50 141.8,164.50 142.3,164.50 142.8,164.50 143.3,164.50 143.8,164.50 144.3,164.50 144.8,164.50 145.3,164.50 145.8,164.50 146.3,164.50 146.8,164.50 147.3,164.50 147.8,164.50 148.3,164.50 148.8,164.50 149.3,164.50 149.8,164.50 150.3,164.50 150.8,164.50 151.3,164.50 151.8,164.50 152.3,164.50 152.8,164.50 153.3,164.50 153.8,164.50 154.3,164.50 154.8,164.50 155.3,164.50 155.8,164.50 156.3,164.50 156.8,164.50 157.3,164.50 157.8,164.50 158.3,164.50 158.8,164.50 159.3,164.50 159.8,164.50 160.3,164.50 160.8,164.50 161.3,164.50 161.8,164.50 162.3,164.50 162.8,164.50 163.3,164.50 163.8,164.50 164.3,164.50 164.8,164.50 165.3,164.50 165.8,164.50 166.3,164.50 166.8,164.50 167.3,164.50 167.8,164.50 168.3,164.50 168.8,164.50 169.3,164.50 169.8,164.50" fill="none" stroke="#757575" stroke-width="0.6"/>
<polyline points="7.3,164.50 7.8,164.50 8.3,164.50 8.8,164.50 9.3,164.50 9.8,164.50 10.3,164.50 10.8,164.50 11.3,164.50 11.8,164.50 12.3,164.50 12.8,164.50 13.3,164.50 13.8,164.50 14.3,164.50 14.8,164.50 15.3,164.50 15.8,164.50 16.3,164.50 16.8,164.50 17.3,164.50 17.8,164.50 18.3,164.50 18.8,164.50 19.3,164.50 19.8,164.50 20.3,164.50 20.8,164.50 21.3,164.50 21.8,164.50 22.3,164.49 22.8,164.47 23.3,164.44 23.8,164.35 24.3,164.18 24.8,163.85 25.3,163.28 25.8,162.38 26.3,161.07 26.8,159.34 27.3,157.31 27.8,155.18 28.3,153.29 28.8,151.97 29.3,151.50 29.8,151.97 30.3,153.29 30.8,155.18 31.3,157.31 31.8,159.34 32.3,161.07 32.8,162.38 33.3,163.28 33.8,163.85 34.3,164.18 34.8,164.35 35.3,164.44 35.8,164.47 36.3,164.49 36.8,164.50 37.3,164.50 37.8,164.50 38.3,164.50 38.8,164.50 39.3,164.50 39.8,164.50 40.3,164.50 40.8,164.50 41.3,164.50 41.8,164.50 42.3,164.49 42.8,164.49 43.3,164.47 43.8,164.42 44.3,164.32 44.8,164.13 45.3,163.77 45.8,163.17 46.3,162.21 46.8,160.81 47.3,158.92 47.8,156.57 48.3,153.93 48.8,151.29 49.3,149.01 49.8,147.45 50.3,146.90 50.8,147.45 51.3,149.01 51.8,151.29 52.3,153.93 52.8,156.57 53.3,158.92 53.8,160.81 54.3,162.21 54.8,163.17 55.3,163.77 55.8,164.13 56.3,164.32 56.8,164.42 57.3,164.47 57.8,164.49 58.3,164.49 58.8,164.50 59.3,164.50 59.8,164.50 60.3,164.50 60.8,164.50 61.3,164.50 61.8,164.50 62.3,164.50 62.8,164.50 63.3,164.50 63.8,164.50 64.3,164.50 64.8,164.50 65.3,164.50 65.8,164.50 66.3,164.50 66.8,164.50 67.3,164.50 67.8,164.50 68.3,164.50 68.8,164.50 69.3,164.50 69.8,164.50 70.3,164.50 70.8,164.50 71.3,164.50 71.8,164.50 72.3,164.50 72.8,164.50 73.3,164.50 73.8,164.50 74.3,164.50 74.8,164.50 75.3,164.50 75.8,164.50 76.3,164.50 76.8,164.50 77.3,164.50 77.8,164.50 78.3,164.50 78.8,164.50 79.3,164.50 79.8,164.50 80.3,164.50 80.8,164.50 81.3,164.50 81.8,164.50 82.3,164.50 82.8,164.50 83.3,164.50 83.8,164.50 84.3,164.50 84.8,164.50 85.3,164.50 85.8,164.50 86.3,164.50 86.8,164.50 87.3,164.50 87.8,164.50 88.3,164.50 88.8,164.50 89.3,164.50 89.8,164.50 90.3,164.50 90.8,164.50 91.3,164.50 91.8,164.50 92.3,164.50 92.8,164.50 93.3,164.50 93.8,164.50 94.3,164.50 94.8,164.49 95.3,164.47 95.8,164.43 96.3,164.34 96.8,164.16 97.3,163.83 97.8,163.26 98.3,162.33 98.8,160.96 99.3,159.07 99.8,156.69 100.3,153.96 100.8,151.15 101.3,148.65 101.8,146.83 102.3,146.02 102.8,146.37 103.3,147.82 103.8,150.09 104.3,152.83 104.8,155.63 105.3,158.17 105.8,160.27 106.3,161.84 106.8,162.93 107.3,163.63 107.8,164.05 108.3,164.28 108.8,164.40 109.3,164.46 109.8,164.48 110.3,164.49 110.8,164.50 111.3,164.50 111.8,164.50 112.3,164.50 112.8,164.50 113.3,164.50 113.8,164.50 114.3,164.50 114.8,164.50 115.3,164.50 115.8,164.50 116.3,164.50 116.8,164.50 117.3,164.50 117.8,164.50 118.3,164.50 118.8,164.50 119.3,164.50 119.8,164.50 120.3,164.50 120.8,164.50 121.3,164.50 121.8,164.50 122.3,164.50 122.8,164.50 123.3,164.50 123.8,164.50 124.3,164.50 124.8,164.50 125.3,164.50 125.8,164.50 126.3,164.50 126.8,164.50 127.3,164.50 127.8,164.50 128.3,164.50 128.8,164.50 129.3,164.50 129.8,164.50 130.3,164.50 130.8,164.50 131.3,164.50 131.8,164.50 132.3,164.50 132.8,164.50 133.3,164.50 133.8,164.49 134.3,164.49 134.8,164.46 135.3,164.42 135.8,164.32 136.3,164.12 136.8,163.77 137.3,163.19 137.8,162.27 138.3,160.95 138.8,159.19 139.3,157.04 139.8,154.67 140.3,152.32 140.8,150.30 141.3,148.87 141.8,148.19 142.3,148.22 142.8,148.75 143.3,149.41 143.8,149.80 144.3,149.63 144.8,148.77 145.3,147.34 145.8,145.63 146.3,144.08 146.8,143.11 147.3,143.04 147.8,144.00 148.3,145.91 148.8,148.52 149.3,151.50 149.8,154.49 150.3,157.21 150.8,159.48 151.3,161.23 151.8,162.48 152.3,163.32 152.8,163.85 153.3,164.16 153.8,164.33 154.3,164.42 154.8,164.47 155.3,164.49 155.8,164.49 156.3,164.50 156.8,164.50 157.3,164.50 157.8,164.50 158.3,164.50 158.8,164.50 159.3,164.50 159.8,164.50 160.3,164.50 160.8,164.50 161.3,164.50 161.8,164.50 162.3,164.50 162.8,164.50 163.3,164.50 163.8,164.50 164.3,164.50 164.8,164.50 165.3,164.50 165.8,164.50 166.3,164.50 166.8,164.50 167.3,164.50 167.8,164.50 168.3,164.50 168.8,164.50 169.3,164.50 169.8,164.50" fill="none" stroke="#5aa870" stroke-width="0.6"/>
<polyline points="7.3,164.50 7.8,164.50 8.3,164.50 8.8,164.50 9.3,164.50 9.8,164.50 10.3,164.50 10.8,164.50 11.3,164.50 11.8,164.50 12.3,164.50 12.8,164.50 13.3,164.50 13.8,164.50 14.3,164.50 14.8,164.50 15.3,164.50 15.8,164.50 16.3,164.50 16.8,164.50 17.3,164.50 17.8,164.50 18.3,164.50 18.8,164.50 19.3,164.50 19.8,164.50 20.3,164.50 20.8,164.50 21.3,164.50 21.8,164.50 22.3,164.50 22.8,164.50 23.3,164.50 23.8,164.50 24.3,164.50 24.8,164.50 25.3,164.50 25.8,164.50 26.3,164.50 26.8,164.50 27.3,164.50 27.8,164.50 28.3,164.50 28.8,164.50 29.3,164.50 29.8,164.50 30.3,164.50 30.8,164.50 31.3,164.50 31.8,164.50 32.3,164.50 32.8,164.50 33.3,164.50 33.8,164.50 34.3,164.50 34.8,164.50 35.3,164.50 35.8,164.50 36.3,164.50 36.8,164.50 37.3,164.50 37.8,164.49 38.3,164.47 38.8,164.41 39.3,164.30 39.8,164.06 40.3,163.62 40.8,162.85 41.3,161.63 41.8,159.85 42.3,157.52 42.8,154.76 43.3,151.88 43.8,149.32 44.3,147.54 44.8,146.90 45.3,147.54 45.8,149.32 46.3,151.88 46.8,154.76 47.3,157.52 47.8,159.85 48.3,161.63 48.8,162.85 49.3,163.62 49.8,164.06 50.3,164.30 50.8,164.41 51.3,164.47 51.8,164.49 52.3,164.50 52.8,164.50 53.3,164.50 53.8,164.50 54.3,164.50 54.8,164.50 55.3,164.50 55.8,164.50 56.3,164.50 56.8,164.50 57.3,164.50 57.8,164.50 58.3,164.50 58.8,164.50 59.3,164.50 59.8,164.50 60.3,164.50 60.8,164.50 61.3,164.50 61.8,164.50 62.3,164.50 62.8,164.50 63.3,164.50 63.8,164.50 64.3,164.50 64.8,164.50 65.3,164.50 65.8,164.50 66.3,164.50 66.8,164.50 67.3,164.50 67.8,164.50 68.3,164.50 68.8,164.50 69.3,164.50 69.8,164.50 70.3,164.50 70.8,164.50 71.3,164.50 71.8,164.50 72.3,164.50 72.8,164.50 73.3,164.50 73.8,164.50 74.3,164.50 74.8,164.50 75.3,164.50 75.8,164.50 76.3,164.50 76.8,164.50 77.3,164.50 77.8,164.50 78.3,164.50 78.8,164.50 79.3,164.50 79.8,164.50 80.3,164.50 80.8,164.50 81.3,164.50 81.8,164.50 82.3,164.50 82.8,164.50 83.3,164.50 83.8,164.50 84.3,164.49 84.8,164.48 85.3,164.46 85.8,164.39 86.3,164.25 86.8,163.95 87.3,163.39 87.8,162.43 88.3,160.89 88.8,158.66 89.3,155.73 89.8,152.27 90.3,148.66 90.8,145.44 91.3,143.20 91.8,142.40 92.3,143.20 92.8,145.44 93.3,148.66 93.8,152.27 94.3,155.73 94.8,158.66 95.3,160.89 95.8,162.43 96.3,163.39 96.8,163.95 97.3,164.25 97.8,164.39 98.3,164.46 98.8,164.48 99.3,164.49 99.8,164.50 100.3,164.50 100.8,164.50 101.3,164.50 101.8,164.49 102.3,164.47 102.8,164.41 103.3,164.30 103.8,164.07 104.3,163.62 104.8,162.86 105.3,161.64 105.8,159.88 106.3,157.56 106.8,154.82 107.3,151.95 107.8,149.41 108.3,147.63 108.8,146.99 109.3,147.62 109.8,149.37 110.3,151.87 110.8,154.62 111.3,157.13 111.8,159.03 112.3,160.05 112.8,160.04 113.3,158.97 113.8,156.83 114.3,153.76 114.8,150.01 115.3,146.00 115.8,142.27 116.3,139.41 116.8,137.93 117.3,138.09 117.8,139.85 118.3,142.87 118.8,146.58 119.3,150.33 119.8,153.53 120.3,155.69 120.8,156.51 121.3,155.90 121.8,153.96 122.3,151.03 122.8,147.65 123.3,144.49 123.8,142.26 124.3,141.47 124.8,142.32 125.3,144.66 125.8,148.01 126.3,151.77 126.8,155.38 127.3,158.43 127.8,160.74 128.3,162.34 128.8,163.35 129.3,163.93 129.8,164.24 130.3,164.39 130.8,164.46 131.3,164.48 131.8,164.49 132.3,164.50 132.8,164.50 133.3,164.50 133.8,164.50 134.3,164.50 134.8,164.50 135.3,164.50 135.8,164.50 136.3,164.50 136.8,164.50 137.3,164.50 137.8,164.50 138.3,164.50 138.8,164.50 139.3,164.50 139.8,164.50 140.3,164.50 140.8,164.50 141.3,164.50 141.8,164.50 142.3,164.50 142.8,164.50 143.3,164.50 143.8,164.50 144.3,164.50 144.8,164.50 145.3,164.50 145.8,164.50 146.3,164.50 146.8,164.50 147.3,164.49 147.8,164.47 148.3,164.43 148.8,164.33 149.3,164.11 149.8,163.69 150.3,162.94 150.8,161.70 151.3,159.84 151.8,157.29 152.3,154.14 152.8,150.67 153.3,147.37 153.8,144.78 154.3,143.43 154.8,143.58 155.3,145.22 155.8,147.99 156.3,151.37 156.8,154.81 157.3,157.85 157.8,160.27 158.3,162.00 158.8,163.12 159.3,163.80 159.8,164.17 160.3,164.35 160.8,164.44 161.3,164.48 161.8,164.49 162.3,164.50 162.8,164.50 163.3,164.50 163.8,164.50 164.3,164.50 164.8,164.50 165.3,164.50 165.8,164.50 166.3,164.50 166.8,164.50 167.3,164.50 167.8,164.50 168.3,164.50 168.8,164.50 169.3,164.50 169.8,164.50" fill="none" stroke="#f25e5e" stroke-width="0.6"/>
<polyline points="7.3,151.5 8.5,149.6 10,148.4 11.5,147.6 13,145.6 14.5,143.4 16,142.3 18,141.6 20,141.4 22,140.6 24.2,139.7 25.5,140.5 26.5,143.5 27.5,149 28.5,156 29.5,161.5 30.5,164 31.5,164.5" fill="none" stroke="#7474f2" stroke-width="0.6"/>
<line x1="7.3" y1="164.5" x2="170" y2="164.5" stroke="#4a4060" stroke-width="0.6"/>
<text x="200.8" y="17.3" font-size="11" fill="#000" stroke="#000" stroke-width="0.1" text-anchor="start" textLength="6.30" lengthAdjust="spacingAndGlyphs" >B</text>
<rect x="204.30" y="56.90" width="6.20" height="6.45" fill="#a0652b"/>
<rect x="211.40" y="56.90" width="6.20" height="6.45" fill="#a0652b"/>
<rect x="218.80" y="56.90" width="11.00" height="6.45" fill="#a0652b"/>
<rect x="231.00" y="56.90" width="11.00" height="6.45" fill="#a0652b"/>
<rect x="243.10" y="56.90" width="5.60" height="6.45" fill="#d9d9d9"/>
<rect x="257.30" y="56.90" width="10.90" height="6.45" fill="#a0652b"/>
<rect x="281.00" y="56.90" width="11.00" height="6.45" fill="#d9d9d9"/>
<rect x="293.10" y="56.90" width="10.90" height="6.45" fill="#a0652b"/>
<rect x="305.20" y="56.90" width="10.80" height="6.45" fill="#d9d9d9"/>
<rect x="317.20" y="56.90" width="8.00" height="6.45" fill="#a0652b"/>
<rect x="326.00" y="56.90" width="8.00" height="6.45" fill="#a0652b"/>
<rect x="335.30" y="56.90" width="6.00" height="6.45" fill="#a0652b"/>
<rect x="342.10" y="56.90" width="5.90" height="6.45" fill="#a0652b"/>
<rect x="361.00" y="56.90" width="10.80" height="6.45" fill="#d9d9d9"/>
<rect x="204.30" y="64.25" width="6.20" height="6.45" fill="#f1c9cd"/>
<rect x="211.40" y="64.25" width="6.20" height="6.45" fill="#f1c9cd"/>
<rect x="218.80" y="64.25" width="11.00" height="6.45" fill="#d9d9d9"/>
<rect x="231.00" y="64.25" width="11.00" height="6.45" fill="#f1c9cd"/>
<rect x="243.10" y="64.25" width="5.60" height="6.45" fill="#f1c9cd"/>
<rect x="249.60" y="64.25" width="6.10" height="6.45" fill="#f1c9cd"/>
<rect x="257.30" y="64.25" width="10.90" height="6.45" fill="#d9d9d9"/>
<rect x="269.20" y="64.25" width="10.80" height="6.45" fill="#d9d9d9"/>
<rect x="281.00" y="64.25" width="11.00" height="6.45" fill="#f1c9cd"/>
<rect x="293.10" y="64.25" width="10.90" height="6.45" fill="#f1c9cd"/>
<rect x="305.20" y="64.25" width="10.80" height="6.45" fill="#d9d9d9"/>
<rect x="317.20" y="64.25" width="8.00" height="6.45" fill="#d9d9d9"/>
<rect x="326.00" y="64.25" width="8.00" height="6.45" fill="#d9d9d9"/>
<rect x="335.30" y="64.25" width="6.00" height="6.45" fill="#d9d9d9"/>
<rect x="342.10" y="64.25" width="5.90" height="6.45" fill="#d9d9d9"/>
<rect x="361.00" y="64.25" width="10.80" height="6.45" fill="#d9d9d9"/>
<rect x="204.30" y="71.60" width="6.20" height="6.45" fill="#d9d9d9"/>
<rect x="211.40" y="71.60" width="6.20" height="6.45" fill="#d9d9d9"/>
<rect x="218.80" y="71.60" width="11.00" height="6.45" fill="#f1c9cd"/>
<rect x="231.00" y="71.60" width="11.00" height="6.45" fill="#d9d9d9"/>
<rect x="243.10" y="71.60" width="5.60" height="6.45" fill="#f1c9cd"/>
<rect x="257.30" y="71.60" width="10.90" height="6.45" fill="#d9d9d9"/>
<rect x="269.20" y="71.60" width="10.80" height="6.45" fill="#d9d9d9"/>
<rect x="281.00" y="71.60" width="11.00" height="6.45" fill="#d9d9d9"/>
<rect x="293.10" y="71.60" width="10.90" height="6.45" fill="#d9d9d9"/>
<rect x="305.20" y="71.60" width="10.80" height="6.45" fill="#d9d9d9"/>
<rect x="317.20" y="71.60" width="8.00" height="6.45" fill="#d9d9d9"/>
<rect x="326.00" y="71.60" width="8.00" height="6.45" fill="#d9d9d9"/>
<rect x="335.30" y="71.60" width="6.00" height="6.45" fill="#d9d9d9"/>
<rect x="342.10" y="71.60" width="5.90" height="6.45" fill="#d9d9d9"/>
<rect x="361.00" y="71.60" width="10.80" height="6.45" fill="#f1c9cd"/>
<rect x="211.40" y="78.95" width="6.20" height="6.45" fill="#d9d9d9"/>
<rect x="231.00" y="78.95" width="11.00" height="6.45" fill="#f0b51f"/>
<rect x="257.30" y="78.95" width="10.90" height="6.45" fill="#f0b51f"/>
<rect x="293.10" y="78.95" width="10.90" height="6.45" fill="#d9d9d9"/>
<rect x="317.20" y="78.95" width="8.00" height="6.45" fill="#a9d18e"/>
<rect x="326.00" y="78.95" width="4.20" height="6.45" fill="#f0b51f"/>
<rect x="330.90" y="78.95" width="3.10" height="6.45" fill="#a9d18e"/>
<rect x="335.30" y="78.95" width="6.00" height="6.45" fill="#f0b51f"/>
<rect x="342.10" y="78.95" width="5.90" height="6.45" fill="#f0b51f"/>
<rect x="349.10" y="78.95" width="10.80" height="6.45" fill="#a9d18e"/>
<rect x="361.00" y="78.95" width="10.80" height="6.45" fill="#a9d18e"/>
<rect x="204.30" y="86.30" width="6.20" height="6.45" fill="#d9d9d9"/>
<rect x="211.40" y="86.30" width="6.20" height="6.45" fill="#d9d9d9"/>
<rect x="218.80" y="86.30" width="11.00" height="6.45" fill="#f1c9cd"/>
<rect x="231.00" y="86.30" width="11.00" height="6.45" fill="#d9d9d9"/>
<rect x="243.10" y="86.30" width="5.60" height="6.45" fill="#d9d9d9"/>
<rect x="269.20" y="86.30" width="10.80" height="6.45" fill="#d9d9d9"/>
<rect x="361.00" y="86.30" width="10.80" height="6.45" fill="#d9d9d9"/>
<rect x="204.30" y="93.65" width="6.20" height="6.45" fill="#279a45"/>
<rect x="211.40" y="93.65" width="6.20" height="6.45" fill="#27a9e6"/>
<rect x="218.80" y="93.65" width="11.00" height="6.45" fill="#279a45"/>
<rect x="231.00" y="93.65" width="11.00" height="6.45" fill="#279a45"/>
<rect x="243.10" y="93.65" width="5.60" height="6.45" fill="#279a45"/>
<rect x="249.60" y="93.65" width="6.10" height="6.45" fill="#27a9e6"/>
<rect x="257.30" y="93.65" width="10.90" height="6.45" fill="#279a45"/>
<rect x="269.20" y="93.65" width="10.80" height="6.45" fill="#279a45"/>
<rect x="281.00" y="93.65" width="11.00" height="6.45" fill="#279a45"/>
<rect x="293.10" y="93.65" width="10.90" height="6.45" fill="#279a45"/>
<rect x="305.20" y="93.65" width="10.80" height="6.45" fill="#279a45"/>
<rect x="317.20" y="93.65" width="8.00" height="6.45" fill="#279a45"/>
<rect x="326.00" y="93.65" width="8.00" height="6.45" fill="#279a45"/>
<rect x="335.30" y="93.65" width="6.00" height="6.45" fill="#279a45"/>
<rect x="342.10" y="93.65" width="5.90" height="6.45" fill="#27a9e6"/>
<rect x="349.10" y="93.65" width="10.80" height="6.45" fill="#279a45"/>
<rect x="361.00" y="93.65" width="10.80" height="6.45" fill="#e2efd9"/>
<rect x="204.30" y="101.00" width="6.20" height="6.45" fill="#2d4f9c"/>
<rect x="211.40" y="101.00" width="6.20" height="6.45" fill="#2d4f9c"/>
<rect x="218.80" y="101.00" width="11.00" height="6.45" fill="#2d4f9c"/>
<rect x="231.00" y="101.00" width="11.00" height="6.45" fill="#2d4f9c"/>
<rect x="243.10" y="101.00" width="5.60" height="6.45" fill="#2d4f9c"/>
<rect x="257.30" y="101.00" width="10.90" height="6.45" fill="#2d4f9c"/>
<rect x="269.20" y="101.00" width="10.80" height="6.45" fill="#2d4f9c"/>
<rect x="281.00" y="101.00" width="11.00" height="6.45" fill="#2d4f9c"/>
<rect x="293.10" y="101.00" width="10.90" height="6.45" fill="#2d4f9c"/>
<rect x="305.20" y="101.00" width="10.80" height="6.45" fill="#2d4f9c"/>
<rect x="317.20" y="101.00" width="8.00" height="6.45" fill="#2d4f9c"/>
<rect x="326.00" y="101.00" width="8.00" height="6.45" fill="#2d4f9c"/>
<rect x="335.30" y="101.00" width="6.00" height="6.45" fill="#2d4f9c"/>
<rect x="342.10" y="101.00" width="5.90" height="6.45" fill="#2d4f9c"/>
<rect x="349.10" y="101.00" width="10.80" height="6.45" fill="#2d4f9c"/>
<rect x="361.00" y="101.00" width="10.80" height="6.45" fill="#2d4f9c"/>
<rect x="204.30" y="108.35" width="6.20" height="6.45" fill="#d9d9d9"/>
<rect x="211.40" y="108.35" width="6.20" height="6.45" fill="#d9d9d9"/>
<rect x="218.80" y="108.35" width="11.00" height="6.45" fill="#d9d9d9"/>
<rect x="231.00" y="108.35" width="11.00" height="6.45" fill="#d9d9d9"/>
<rect x="243.10" y="108.35" width="5.60" height="6.45" fill="#d9d9d9"/>
<rect x="257.30" y="108.35" width="10.90" height="6.45" fill="#d9d9d9"/>
<rect x="269.20" y="108.35" width="10.80" height="6.45" fill="#d9d9d9"/>
<rect x="281.00" y="108.35" width="11.00" height="6.45" fill="#d9d9d9"/>
<rect x="293.10" y="108.35" width="10.90" height="6.45" fill="#d9d9d9"/>
<rect x="305.20" y="108.35" width="10.80" height="6.45" fill="#d9d9d9"/>
<rect x="317.20" y="108.35" width="8.00" height="6.45" fill="#2d4f9c"/>
<rect x="326.00" y="108.35" width="8.00" height="6.45" fill="#2d4f9c"/>
<rect x="335.30" y="108.35" width="6.00" height="6.45" fill="#2d4f9c"/>
<rect x="342.10" y="108.35" width="5.90" height="6.45" fill="#2d4f9c"/>
<rect x="349.10" y="108.35" width="10.80" height="6.45" fill="#2d4f9c"/>
<rect x="361.00" y="108.35" width="10.80" height="6.45" fill="#2d4f9c"/>
<circle cx="245.3" cy="67.1" r="0.85" fill="#333"/>
<circle cx="252.8" cy="67.1" r="0.85" fill="#333"/>
<text x="328.6" y="62.2" font-size="5" fill="#222" font-style="italic">#</text>
<rect x="203.8" y="56.2" width="14.299999999999983" height="58.89999999999999" fill="none" stroke="#1a1a1a" stroke-width="1.1"/>
<rect x="242.5" y="56.2" width="13.899999999999977" height="58.89999999999999" fill="none" stroke="#1a1a1a" stroke-width="1.1"/>
<rect x="316.6" y="56.1" width="18.099999999999966" height="59.1" fill="none" stroke="#1a1a1a" stroke-width="1.1"/>
<rect x="334.7" y="56.1" width="13.900000000000034" height="59.1" fill="none" stroke="#1a1a1a" stroke-width="1.1"/>
<text transform="translate(213.6,52.2) rotate(-90)" x="0" y="0" font-size="6.4" fill="#231f20" stroke="#231f20" stroke-width="0.1" textLength="15" lengthAdjust="spacingAndGlyphs">Case 1</text>
<text transform="translate(226.1,52.2) rotate(-90)" x="0" y="0" font-size="6.4" fill="#231f20" stroke="#231f20" stroke-width="0.1" textLength="15" lengthAdjust="spacingAndGlyphs">Case 2</text>
<text transform="translate(238.6,52.2) rotate(-90)" x="0" y="0" font-size="6.4" fill="#231f20" stroke="#231f20" stroke-width="0.1" textLength="15" lengthAdjust="spacingAndGlyphs">Case 3</text>
<text transform="translate(251.5,52.2) rotate(-90)" x="0" y="0" font-size="6.4" fill="#231f20" stroke="#231f20" stroke-width="0.1" textLength="15" lengthAdjust="spacingAndGlyphs">Case 4</text>
<text transform="translate(263.59999999999997,52.2) rotate(-90)" x="0" y="0" font-size="6.4" fill="#231f20" stroke="#231f20" stroke-width="0.1" textLength="15" lengthAdjust="spacingAndGlyphs">Case 5</text>
<text transform="translate(276.09999999999997,52.2) rotate(-90)" x="0" y="0" font-size="6.4" fill="#231f20" stroke="#231f20" stroke-width="0.1" textLength="15" lengthAdjust="spacingAndGlyphs">Case 6</text>
<text transform="translate(288.59999999999997,52.2) rotate(-90)" x="0" y="0" font-size="6.4" fill="#231f20" stroke="#231f20" stroke-width="0.1" textLength="15" lengthAdjust="spacingAndGlyphs">Case 7</text>
<text transform="translate(300.8,52.2) rotate(-90)" x="0" y="0" font-size="6.4" fill="#231f20" stroke="#231f20" stroke-width="0.1" textLength="15" lengthAdjust="spacingAndGlyphs">Case 8</text>
<text transform="translate(312.9,52.2) rotate(-90)" x="0" y="0" font-size="6.4" fill="#231f20" stroke="#231f20" stroke-width="0.1" textLength="15" lengthAdjust="spacingAndGlyphs">Case 9</text>
<text transform="translate(328.3,52.2) rotate(-90)" x="0" y="0" font-size="6.4" fill="#231f20" stroke="#231f20" stroke-width="0.1" textLength="17.5" lengthAdjust="spacingAndGlyphs">Case 10</text>
<text transform="translate(343.09999999999997,52.2) rotate(-90)" x="0" y="0" font-size="6.4" fill="#231f20" stroke="#231f20" stroke-width="0.1" textLength="17.5" lengthAdjust="spacingAndGlyphs">Case 11</text>
<text transform="translate(356.0,52.2) rotate(-90)" x="0" y="0" font-size="6.4" fill="#231f20" stroke="#231f20" stroke-width="0.1" textLength="17.5" lengthAdjust="spacingAndGlyphs">Case 12</text>
<text transform="translate(368.59999999999997,52.2) rotate(-90)" x="0" y="0" font-size="6.4" fill="#231f20" stroke="#231f20" stroke-width="0.1" textLength="28.8" lengthAdjust="spacingAndGlyphs">Cell line 380</text>
<text x="375.2" y="61.4" font-size="6.7" fill="#231f20" stroke="#231f20" stroke-width="0.1" text-anchor="start" textLength="18.40" lengthAdjust="spacingAndGlyphs" >1q gain</text>
<text x="375.2" y="68.75" font-size="6.7" fill="#231f20" stroke="#231f20" stroke-width="0.1" text-anchor="start" textLength="13.50" lengthAdjust="spacingAndGlyphs" >NRAS</text>
<text x="375.2" y="76.1" font-size="6.7" fill="#231f20" stroke="#231f20" stroke-width="0.1" text-anchor="start" textLength="13.00" lengthAdjust="spacingAndGlyphs" >KRAS</text>
<text x="375.2" y="83.44999999999999" font-size="6.7" fill="#231f20" stroke="#231f20" stroke-width="0.1" text-anchor="start" textLength="44.40" lengthAdjust="spacingAndGlyphs" >IG locus alteration</text>
<text x="375.2" y="90.8" font-size="6.7" fill="#231f20" stroke="#231f20" stroke-width="0.1" text-anchor="start" textLength="44.40" lengthAdjust="spacingAndGlyphs" >BL mutated genes</text>
<text x="375.2" y="98.15" font-size="6.7" fill="#231f20" stroke="#231f20" stroke-width="0.1" text-anchor="start" textLength="26.50" lengthAdjust="spacingAndGlyphs" >Subgroups</text>
<text x="375.2" y="105.5" font-size="6.7" fill="#231f20" stroke="#231f20" stroke-width="0.1" text-anchor="start" textLength="19.00" lengthAdjust="spacingAndGlyphs" >IG-MYC</text>
<text x="375.2" y="112.85" font-size="6.7" fill="#231f20" stroke="#231f20" stroke-width="0.1" text-anchor="start" textLength="24.00" lengthAdjust="spacingAndGlyphs" >IGH-BCL2</text>
<text x="200.7" y="134.3" font-size="6.8" fill="#231f20" stroke="#231f20" stroke-width="0.1" text-anchor="start" textLength="29.40" lengthAdjust="spacingAndGlyphs" >Alterations</text>
<rect x="200.70" y="139.10" width="14.10" height="6.80" fill="#a0652b"/>
<rect x="200.70" y="145.90" width="14.10" height="7.10" fill="#f1c9cd"/>
<rect x="200.70" y="153.00" width="14.10" height="6.20" fill="#d9d9d9"/>
<rect x="201.20" y="161.40" width="13.10" height="6.90" fill="#fff" stroke="#333" stroke-width="1"/>
<text x="217.9" y="144.7" font-size="6.7" fill="#231f20" stroke="#231f20" stroke-width="0.1" text-anchor="start" textLength="9.80" lengthAdjust="spacingAndGlyphs" >DUP</text>
<text x="217.9" y="151.6" font-size="6.7" fill="#231f20" stroke="#231f20" stroke-width="0.1" text-anchor="start" textLength="53.00" lengthAdjust="spacingAndGlyphs" >nonsynonymous SNV</text>
<text x="217.9" y="158.5" font-size="6.7" fill="#231f20" stroke="#231f20" stroke-width="0.1" text-anchor="start" textLength="28.00" lengthAdjust="spacingAndGlyphs" >unmutated</text>
<text x="217.9" y="166.5" font-size="6.7" fill="#231f20" stroke="#231f20" stroke-width="0.1" text-anchor="start" textLength="9.20" lengthAdjust="spacingAndGlyphs" >n.a.</text>
<text x="280.4" y="134.1" font-size="6.8" fill="#231f20" stroke="#231f20" stroke-width="0.1" text-anchor="start" textLength="29.60" lengthAdjust="spacingAndGlyphs" >Subgroups</text>
<rect x="280.40" y="139.00" width="11.70" height="7.20" fill="#279a45"/>
<rect x="280.40" y="146.20" width="11.70" height="7.40" fill="#27a9e6"/>
<rect x="280.40" y="154.00" width="11.70" height="5.60" fill="#e2efd9"/>
<rect x="280.90" y="161.20" width="10.70" height="7.10" fill="#fff" stroke="#333" stroke-width="1"/>
<text x="295.2" y="144.6" font-size="6.7" fill="#231f20" stroke="#231f20" stroke-width="0.1" text-anchor="start" textLength="38.70" lengthAdjust="spacingAndGlyphs" >Initial diagnosis</text>
<text x="295.2" y="151.6" font-size="6.7" fill="#231f20" stroke="#231f20" stroke-width="0.1" text-anchor="start" textLength="19.10" lengthAdjust="spacingAndGlyphs" >Relapse</text>
<text x="295.2" y="159.0" font-size="6.7" fill="#231f20" stroke="#231f20" stroke-width="0.1" text-anchor="start" textLength="19.40" lengthAdjust="spacingAndGlyphs" >Cell line</text>
<text x="295.2" y="166.4" font-size="6.7" fill="#231f20" stroke="#231f20" stroke-width="0.1" text-anchor="start" textLength="27.90" lengthAdjust="spacingAndGlyphs" >preBLL pair</text>
<text x="342.8" y="126.9" font-size="6.8" fill="#231f20" stroke="#231f20" stroke-width="0.1" text-anchor="start" textLength="47.30" lengthAdjust="spacingAndGlyphs" >IG-MYC/IGH-BCL2</text>
<text x="342.8" y="134.1" font-size="6.8" fill="#231f20" stroke="#231f20" stroke-width="0.1" text-anchor="start" textLength="35.10" lengthAdjust="spacingAndGlyphs" >translocation</text>
<rect x="342.80" y="139.00" width="13.90" height="7.00" fill="#d9d9d9"/>
<rect x="342.80" y="146.40" width="13.90" height="6.90" fill="#2d4f9c"/>
<rect x="343.30" y="154.40" width="12.90" height="6.80" fill="#fff" stroke="#333" stroke-width="1"/>
<text x="360.2" y="144.6" font-size="6.7" fill="#231f20" stroke="#231f20" stroke-width="0.1" text-anchor="start" textLength="20.90" lengthAdjust="spacingAndGlyphs" >negative</text>
<text x="360.2" y="151.5" font-size="6.7" fill="#231f20" stroke="#231f20" stroke-width="0.1" text-anchor="start" textLength="18.80" lengthAdjust="spacingAndGlyphs" >positive</text>
<text x="360.2" y="159.2" font-size="6.7" fill="#231f20" stroke="#231f20" stroke-width="0.1" text-anchor="start" textLength="8.30" lengthAdjust="spacingAndGlyphs" >n.a.</text>
<text x="405.1" y="134.4" font-size="6.8" fill="#231f20" stroke="#231f20" stroke-width="0.1" text-anchor="start" textLength="49.00" lengthAdjust="spacingAndGlyphs" >IG locus alteration</text>
<rect x="405.10" y="139.10" width="12.30" height="7.00" fill="#f0b51f"/>
<rect x="405.10" y="146.50" width="12.30" height="6.90" fill="#a9d18e"/>
<rect x="405.10" y="154.10" width="12.30" height="5.30" fill="#d9d9d9"/>
<rect x="405.60" y="160.90" width="11.30" height="7.40" fill="#fff" stroke="#333" stroke-width="1"/>
<text x="420.7" y="145.4" font-size="6.7" fill="#231f20" stroke="#231f20" stroke-width="0.1" text-anchor="start" textLength="85.80" lengthAdjust="spacingAndGlyphs" >IGHV rearrangement unproductive</text>
<text x="420.7" y="152.1" font-size="6.7" fill="#231f20" stroke="#231f20" stroke-width="0.1" text-anchor="start" textLength="52.10" lengthAdjust="spacingAndGlyphs" >Biallelic translocation</text>
<text x="420.7" y="158.8" font-size="6.7" fill="#231f20" stroke="#231f20" stroke-width="0.1" text-anchor="start" textLength="27.40" lengthAdjust="spacingAndGlyphs" >Not altered</text>
<text x="420.7" y="166.5" font-size="6.7" fill="#231f20" stroke="#231f20" stroke-width="0.1" text-anchor="start" textLength="8.50" lengthAdjust="spacingAndGlyphs" >n.a.</text>
<text x="7.5" y="187.6" font-size="11" fill="#000" stroke="#000" stroke-width="0.1" text-anchor="start" textLength="6.90" lengthAdjust="spacingAndGlyphs" >C</text>
<text x="9.7" y="199.2" font-size="6.8" fill="#231f20" stroke="#231f20" stroke-width="0.1" text-anchor="start" textLength="34.60" lengthAdjust="spacingAndGlyphs" >Benign B cell</text>
<text x="9.7" y="207.1" font-size="6.8" fill="#231f20" stroke="#231f20" stroke-width="0.1" text-anchor="start" textLength="42.00" lengthAdjust="spacingAndGlyphs" >subpopulations</text>
<text x="9.0" y="216.9" font-size="6.8" fill="#231f20" stroke="#231f20" stroke-width="0.1" text-anchor="start" textLength="11.00" lengthAdjust="spacingAndGlyphs" >HPC</text>
<rect x="61.10" y="210.20" width="10.90" height="8.30" fill="#f7e8d6"/>
<text x="9.0" y="225.15" font-size="6.8" fill="#231f20" stroke="#231f20" stroke-width="0.1" text-anchor="start" textLength="19.70" lengthAdjust="spacingAndGlyphs" >preB1C</text>
<rect x="61.10" y="218.45" width="10.90" height="8.30" fill="#dcc4b5"/>
<text x="9.0" y="233.4" font-size="6.8" fill="#231f20" stroke="#231f20" stroke-width="0.1" text-anchor="start" textLength="20.00" lengthAdjust="spacingAndGlyphs" >preB2C</text>
<rect x="61.10" y="226.70" width="10.90" height="8.30" fill="#b49a8c"/>
<text x="9.0" y="241.65" font-size="6.8" fill="#231f20" stroke="#231f20" stroke-width="0.1" text-anchor="start" textLength="8.70" lengthAdjust="spacingAndGlyphs" >iBC</text>
<rect x="61.10" y="234.95" width="10.90" height="8.30" fill="#8b6c6b"/>
<text x="9.0" y="249.9" font-size="6.8" fill="#231f20" stroke="#231f20" stroke-width="0.1" text-anchor="start" textLength="11.00" lengthAdjust="spacingAndGlyphs" >GCF</text>
<rect x="61.10" y="243.20" width="10.90" height="8.30" fill="#c9321f"/>
<text x="9.0" y="258.15" font-size="6.8" fill="#231f20" stroke="#231f20" stroke-width="0.1" text-anchor="start" textLength="17.40" lengthAdjust="spacingAndGlyphs" >loMBC</text>
<rect x="61.10" y="251.45" width="10.90" height="8.30" fill="#5bb0ac"/>
<text x="9.0" y="266.4" font-size="6.8" fill="#231f20" stroke="#231f20" stroke-width="0.1" text-anchor="start" textLength="15.50" lengthAdjust="spacingAndGlyphs" >naiBC</text>
<rect x="61.10" y="259.70" width="10.90" height="8.30" fill="#7cbb5d"/>
<text x="9.0" y="274.65" font-size="6.8" fill="#231f20" stroke="#231f20" stroke-width="0.1" text-anchor="start" textLength="19.70" lengthAdjust="spacingAndGlyphs" >t-naiBC</text>
<rect x="61.10" y="267.95" width="10.90" height="8.30" fill="#3d9e45"/>
<text x="9.0" y="282.9" font-size="6.8" fill="#231f20" stroke="#231f20" stroke-width="0.1" text-anchor="start" textLength="13.70" lengthAdjust="spacingAndGlyphs" >gcBC</text>
<rect x="61.10" y="276.20" width="10.90" height="8.30" fill="#a3150f"/>
<text x="9.0" y="291.15" font-size="6.8" fill="#231f20" stroke="#231f20" stroke-width="0.1" text-anchor="start" textLength="30.20" lengthAdjust="spacingAndGlyphs" >centroblast</text>
<rect x="61.10" y="284.45" width="10.90" height="8.30" fill="#eba417"/>
<text x="9.0" y="299.4" font-size="6.8" fill="#231f20" stroke="#231f20" stroke-width="0.1" text-anchor="start" textLength="28.30" lengthAdjust="spacingAndGlyphs" >centrocyte</text>
<rect x="61.10" y="292.70" width="10.90" height="8.30" fill="#dc5b1b"/>
<text x="9.0" y="307.65" font-size="6.8" fill="#231f20" stroke="#231f20" stroke-width="0.1" text-anchor="start" textLength="16.20" lengthAdjust="spacingAndGlyphs" >sMGZ</text>
<rect x="61.10" y="300.95" width="10.90" height="8.30" fill="#6b4220"/>
<text x="9.0" y="315.9" font-size="6.8" fill="#231f20" stroke="#231f20" stroke-width="0.1" text-anchor="start" textLength="19.80" lengthAdjust="spacingAndGlyphs" >intMBC</text>
<rect x="61.10" y="309.20" width="10.90" height="8.30" fill="#4aaec4"/>
<text x="9.0" y="324.15" font-size="6.8" fill="#231f20" stroke="#231f20" stroke-width="0.1" text-anchor="start" textLength="17.70" lengthAdjust="spacingAndGlyphs" >hiMBC</text>
<rect x="61.10" y="317.45" width="10.90" height="8.30" fill="#2c9c94"/>
<text x="9.0" y="332.4" font-size="6.8" fill="#231f20" stroke="#231f20" stroke-width="0.1" text-anchor="start" textLength="21.60" lengthAdjust="spacingAndGlyphs" >memBC</text>
<rect x="61.10" y="325.70" width="10.90" height="8.30" fill="#30398f"/>
<text x="9.0" y="340.65" font-size="6.8" fill="#231f20" stroke="#231f20" stroke-width="0.1" text-anchor="start" textLength="16.30" lengthAdjust="spacingAndGlyphs" >bmPC</text>
<rect x="61.10" y="333.95" width="10.90" height="8.30" fill="#6a3a96"/>
<text x="9.0" y="348.9" font-size="6.8" fill="#231f20" stroke="#231f20" stroke-width="0.1" text-anchor="start" textLength="11.10" lengthAdjust="spacingAndGlyphs" >t-PC</text>
<rect x="61.10" y="342.20" width="10.90" height="8.30" fill="#cac1e2"/>
<text x="82.2" y="208.1" font-size="6.8" fill="#231f20" stroke="#231f20" stroke-width="0.1" text-anchor="start" textLength="22.20" lengthAdjust="spacingAndGlyphs" >MYC+BL</text>
<text x="82.2" y="216.9" font-size="6.8" fill="#231f20" stroke="#231f20" stroke-width="0.1" text-anchor="start" textLength="23.40" lengthAdjust="spacingAndGlyphs" >BL (N=8)</text>
<text x="82.2" y="225.15" font-size="6.8" fill="#231f20" stroke="#231f20" stroke-width="0.1" text-anchor="start" textLength="35.00" lengthAdjust="spacingAndGlyphs" >preBLL (N=2)</text>
<text x="82.2" y="241.65" font-size="6.8" fill="#231f20" stroke="#231f20" stroke-width="0.1" text-anchor="start" textLength="40.00" lengthAdjust="spacingAndGlyphs" >ALL subgroups</text>
<text x="82.2" y="249.9" font-size="6.8" fill="#231f20" stroke="#231f20" stroke-width="0.1" text-anchor="start" textLength="43.00" lengthAdjust="spacingAndGlyphs" >KMT2A+ (N=26)</text>
<text x="82.2" y="258.15" font-size="6.8" fill="#231f20" stroke="#231f20" stroke-width="0.1" text-anchor="start" textLength="31.70" lengthAdjust="spacingAndGlyphs" >HeH (N=57)</text>
<text x="82.2" y="266.4" font-size="6.8" fill="#231f20" stroke="#231f20" stroke-width="0.1" text-anchor="start" textLength="40.80" lengthAdjust="spacingAndGlyphs" >t(12;21) (N=40)</text>
<text x="82.2" y="274.65" font-size="6.8" fill="#231f20" stroke="#231f20" stroke-width="0.1" text-anchor="start" textLength="48.60" lengthAdjust="spacingAndGlyphs" >Undefined (N=40)</text>
<text x="82.2" y="282.9" font-size="6.8" fill="#231f20" stroke="#231f20" stroke-width="0.1" text-anchor="start" textLength="57.00" lengthAdjust="spacingAndGlyphs" >non recurrent (N=22)</text>
<text x="82.60000000000001" y="291.15" font-size="6.8" fill="#231f20" stroke="#231f20" stroke-width="0.1" text-anchor="start" textLength="50.10" lengthAdjust="spacingAndGlyphs" >11q23/MLL (N=10)</text>
<text x="82.2" y="299.4" font-size="6.8" fill="#231f20" stroke="#231f20" stroke-width="0.1" text-anchor="start" textLength="33.60" lengthAdjust="spacingAndGlyphs" >t(1;19) (N=5)</text>
<text x="82.2" y="307.65" font-size="6.8" fill="#231f20" stroke="#231f20" stroke-width="0.1" text-anchor="start" textLength="39.60" lengthAdjust="spacingAndGlyphs" >dic(9;20) (N=2)</text>
<text x="82.2" y="315.9" font-size="6.8" fill="#231f20" stroke="#231f20" stroke-width="0.1" text-anchor="start" textLength="33.90" lengthAdjust="spacingAndGlyphs" >t(9;22) (N=4)</text>
<text x="82.2" y="324.15" font-size="6.8" fill="#231f20" stroke="#231f20" stroke-width="0.1" text-anchor="start" textLength="37.00" lengthAdjust="spacingAndGlyphs" >iAMP21 (N=2)</text>
<text x="82.2" y="332.4" font-size="6.8" fill="#231f20" stroke="#231f20" stroke-width="0.1" text-anchor="start" textLength="67.10" lengthAdjust="spacingAndGlyphs" >&lt;45 chromosomes (N=1)</text>
<rect x="158.50" y="210.40" width="11.00" height="8.30" fill="#8c8c8c"/>
<rect x="158.50" y="218.65" width="11.00" height="8.30" fill="#d9a3d4"/>
<rect x="158.50" y="243.40" width="11.00" height="8.30" fill="#3aa3b4"/>
<rect x="158.50" y="251.65" width="11.00" height="8.30" fill="#f2e52a"/>
<rect x="158.50" y="259.90" width="11.00" height="8.30" fill="#b4dce0"/>
<rect x="158.50" y="268.15" width="11.00" height="8.30" fill="#8a4c9c"/>
<rect x="158.50" y="276.40" width="11.00" height="8.30" fill="#b23a8a"/>
<rect x="158.50" y="284.65" width="11.00" height="8.30" fill="#bcb21e"/>
<rect x="158.50" y="292.90" width="11.00" height="8.30" fill="#404040"/>
<rect x="158.50" y="301.15" width="11.00" height="8.30" fill="#4a2280"/>
<rect x="158.50" y="309.40" width="11.00" height="8.30" fill="#2a3a8e"/>
<rect x="158.50" y="317.65" width="11.00" height="8.30" fill="#62aa62"/>
<rect x="158.50" y="325.90" width="11.00" height="8.30" fill="#111111"/>
<text x="203.1" y="212.7" font-size="6.7" fill="#231f20" stroke="#231f20" stroke-width="0.1" text-anchor="start" textLength="12.70" lengthAdjust="spacingAndGlyphs" >early</text>
<text x="278.1" y="212.7" font-size="6.7" fill="#231f20" stroke="#231f20" stroke-width="0.1" text-anchor="start" textLength="51.10" lengthAdjust="spacingAndGlyphs" >B cell development</text>
<text x="390.1" y="212.6" font-size="6.7" fill="#231f20" stroke="#231f20" stroke-width="0.1" text-anchor="start" textLength="10.10" lengthAdjust="spacingAndGlyphs" >late</text>
<line x1="200.8" y1="217.1" x2="404.5" y2="217.1" stroke="#555" stroke-width="0.8"/>
<text x="205.8" y="226.2" font-size="6.7" fill="#231f20" stroke="#231f20" stroke-width="0.1" text-anchor="start" textLength="37.00" lengthAdjust="spacingAndGlyphs" >progenitor BC</text>
<text x="378.8" y="226.1" font-size="6.7" fill="#231f20" stroke="#231f20" stroke-width="0.1" text-anchor="start" textLength="21.90" lengthAdjust="spacingAndGlyphs" >mature/</text>
<text x="355.2" y="233.9" font-size="6.7" fill="#231f20" stroke="#231f20" stroke-width="0.1" text-anchor="start" textLength="45.50" lengthAdjust="spacingAndGlyphs" >differentiated BC</text>
<polyline points="256.7,281.0 263,280.2 269.3,279.5 276,279.9 282.3,281 292.7,282.7 302,284.4 311.5,286.3 319.5,287.9 325,289 335,292.3 345,296.1 355.2,300.4 360.6,304.3 364.5,309 366.5,313 368,316" fill="none" stroke="#4a4a4a" stroke-width="0.75"/>
<line x1="256.7" y1="281.0" x2="247.2" y2="278.4" stroke="#4a4a4a" stroke-width="0.75" stroke-opacity="1"/>
<line x1="247.2" y1="278.4" x2="238" y2="273.8" stroke="#4a4a4a" stroke-width="0.7" stroke-opacity="1"/>
<line x1="238" y1="273.8" x2="231" y2="265.5" stroke="#c8b4aa" stroke-width="0.45" stroke-opacity="1"/>
<line x1="238" y1="273.8" x2="229" y2="266" stroke="#c8b4aa" stroke-width="0.45" stroke-opacity="1"/>
<line x1="238" y1="273.8" x2="233" y2="266.5" stroke="#c8b4aa" stroke-width="0.45" stroke-opacity="1"/>
<line x1="238" y1="273.8" x2="226.5" y2="268.5" stroke="#c8b4aa" stroke-width="0.45" stroke-opacity="1"/>
<line x1="238" y1="273.8" x2="226" y2="271" stroke="#c8b4aa" stroke-width="0.45" stroke-opacity="1"/>
<line x1="238" y1="273.8" x2="226.5" y2="273.5" stroke="#c8b4aa" stroke-width="0.45" stroke-opacity="1"/>
<line x1="238" y1="273.8" x2="227.5" y2="276" stroke="#c8b4aa" stroke-width="0.45" stroke-opacity="1"/>
<line x1="238" y1="273.8" x2="229" y2="275" stroke="#c8b4aa" stroke-width="0.45" stroke-opacity="1"/>
<line x1="238" y1="273.8" x2="230.5" y2="270.8" stroke="#333" stroke-width="0.65" stroke-opacity="1"/>
<ellipse cx="231" cy="265.6" rx="3" ry="2.7" fill="#dcc6bb"/>
<ellipse cx="226.9" cy="269.5" rx="2.6" ry="3.2" fill="#a08580"/>
<ellipse cx="227.2" cy="274.2" rx="2.5" ry="2.6" fill="#ad9490"/>
<ellipse cx="228" cy="276.6" rx="1.6" ry="1" fill="#d8c0bc"/>
<circle cx="226.2" cy="268.2" r="1.5" fill="#8f7270"/>
<circle cx="226.5" cy="272.5" r="1.4" fill="#8f7270"/>
<line x1="247.2" y1="278.4" x2="232" y2="281.6" stroke="#666" stroke-width="0.6" stroke-opacity="1"/>
<path d="M232.3,281.5 L224,281.6 L224,287 Z" fill="#f2e3cf"/>
<ellipse cx="222.2" cy="285.2" rx="3.6" ry="4.2" fill="#f2e3cf"/>
<line x1="256.5" y1="281.6" x2="218.8" y2="302.4" stroke="#444" stroke-width="0.6" stroke-opacity="1"/>
<line x1="256.5" y1="281.6" x2="221.7" y2="307.0" stroke="#555" stroke-width="0.6" stroke-opacity="1"/>
<line x1="229.5" y1="302.6" x2="212.5" y2="313.4" stroke="#a8a040" stroke-width="0.6" stroke-opacity="1"/>
<line x1="256.5" y1="281.6" x2="242.8" y2="299.6" stroke="#444" stroke-width="0.7" stroke-opacity="1"/>
<line x1="256.5" y1="281.6" x2="243.60000000000002" y2="300.20000000000005" stroke="#555" stroke-width="0.6" stroke-opacity="1"/>
<line x1="256.5" y1="281.6" x2="244.4" y2="299.8" stroke="#6a6a9a" stroke-width="0.5" stroke-opacity="1"/>
<line x1="242.54000000000002" y1="299.6" x2="224.8" y2="314.2" stroke="#444" stroke-width="0.55" stroke-opacity="1"/>
<line x1="242.81" y1="299.6" x2="230.2" y2="315" stroke="#666" stroke-width="0.55" stroke-opacity="1"/>
<line x1="243.07500000000002" y1="299.6" x2="235.5" y2="312.3" stroke="#a060d0" stroke-width="0.55" stroke-opacity="1"/>
<line x1="242.42000000000002" y1="299.6" x2="222.4" y2="320.8" stroke="#7040d0" stroke-width="0.55" stroke-opacity="1"/>
<line x1="242.555" y1="299.6" x2="225.1" y2="323.1" stroke="#3040a0" stroke-width="0.55" stroke-opacity="1"/>
<line x1="242.66500000000002" y1="299.6" x2="227.3" y2="323.8" stroke="#60c060" stroke-width="0.55" stroke-opacity="1"/>
<line x1="242.98000000000002" y1="299.6" x2="233.6" y2="322.4" stroke="#a0e8f0" stroke-width="0.55" stroke-opacity="1"/>
<circle cx="218.8" cy="302.4" r="1.85" fill="#111"/>
<circle cx="221.7" cy="307.0" r="1.85" fill="#3aa3b4"/>
<circle cx="212.5" cy="313.4" r="1.85" fill="#a8a020"/>
<circle cx="224.8" cy="314.2" r="1.85" fill="#404040"/>
<circle cx="230.2" cy="315" r="1.85" fill="#f2e52a"/>
<circle cx="235.5" cy="312.3" r="1.85" fill="#a040e0"/>
<circle cx="222.4" cy="320.8" r="1.85" fill="#7010e8"/>
<circle cx="225.1" cy="323.1" r="1.85" fill="#1a2aa0"/>
<circle cx="227.3" cy="323.8" r="1.85" fill="#60d060"/>
<circle cx="233.6" cy="322.4" r="1.85" fill="#a8f0f0"/>
<line x1="243.5" y1="299.2" x2="199.4" y2="329.5" stroke="#f7b0f3" stroke-width="0.7" stroke-opacity="1"/>
<line x1="243.8" y1="299.6" x2="204" y2="328" stroke="#f7b0f3" stroke-width="0.7" stroke-opacity="1"/>
<circle cx="199.4" cy="329.5" r="1.85" fill="#f2a0ee"/>
<circle cx="204" cy="328" r="1.85" fill="#f2a0ee"/>
<line x1="191.3" y1="341.7" x2="200.8" y2="333.3" stroke="#b04c8c" stroke-width="1.1" stroke-opacity="1"/>
<path d="M203.4,331 L197.9,333 L200.9,336.3 Z" fill="#b04c8c"/>
<text x="180.2" y="348.6" font-size="7" fill="#c65aa6" stroke="#c65aa6" stroke-width="0.1" textLength="18.4" lengthAdjust="spacingAndGlyphs">preBLL</text>
<line x1="264.5" y1="280" x2="255.9" y2="265.8" stroke="#f04030" stroke-width="0.75" stroke-opacity="1"/>
<line x1="255.9" y1="265.8" x2="251.7" y2="261.5" stroke="#f06030" stroke-width="0.6" stroke-opacity="1"/>
<circle cx="251.7" cy="261.5" r="1.9" fill="#f25518"/>
<circle cx="255.9" cy="265.8" r="1.9" fill="#d81414"/>
<line x1="268.54" y1="279.6" x2="263.4" y2="262.6" stroke="#60c060" stroke-width="0.5" stroke-opacity="1"/>
<circle cx="263.4" cy="262.6" r="1.85" fill="#55d055"/>
<line x1="268.59" y1="279.6" x2="263.9" y2="266.7" stroke="#2a9a3a" stroke-width="0.5" stroke-opacity="1"/>
<circle cx="263.9" cy="266.7" r="1.85" fill="#1d8c33"/>
<line x1="268.65" y1="279.6" x2="264.5" y2="268.6" stroke="#2a9a3a" stroke-width="0.5" stroke-opacity="1"/>
<circle cx="264.5" cy="268.6" r="1.85" fill="#1d8c33"/>
<line x1="269.07" y1="279.6" x2="268.7" y2="266.1" stroke="#2a9a3a" stroke-width="0.5" stroke-opacity="1"/>
<circle cx="268.7" cy="266.1" r="1.85" fill="#1d8c33"/>
<line x1="269.04" y1="279.6" x2="268.4" y2="268.4" stroke="#2a9a3a" stroke-width="0.5" stroke-opacity="1"/>
<circle cx="268.4" cy="268.4" r="1.85" fill="#1d8c33"/>
<line x1="270.40000000000003" y1="279.8" x2="270.8" y2="271" stroke="#7ad07a" stroke-width="0.45" stroke-opacity="1"/>
<line x1="272.20000000000005" y1="279.8" x2="272.6" y2="271" stroke="#7ad07a" stroke-width="0.45" stroke-opacity="1"/>
<line x1="274.0" y1="279.8" x2="274.4" y2="271" stroke="#7ad07a" stroke-width="0.45" stroke-opacity="1"/>
<line x1="276.20000000000005" y1="279.8" x2="276.6" y2="271" stroke="#7ad07a" stroke-width="0.45" stroke-opacity="1"/>
<circle cx="270.8" cy="270.7" r="1.8" fill="#55d055"/>
<circle cx="272.6" cy="270.7" r="1.8" fill="#55d055"/>
<circle cx="274.4" cy="270.7" r="1.8" fill="#55d055"/>
<circle cx="276.6" cy="270.7" r="1.8" fill="#55d055"/>
<line x1="268.6" y1="280" x2="265.4" y2="289.5" stroke="#f8a840" stroke-width="0.6" stroke-opacity="1"/>
<circle cx="265.4" cy="289.5" r="1.9" fill="#f8a020"/>
<line x1="275" y1="271.7" x2="272" y2="288.2" stroke="#60d060" stroke-width="0.5" stroke-opacity="1"/>
<circle cx="272" cy="288.2" r="1.9" fill="#55d055"/>
<line x1="282.3" y1="281.2" x2="282.9" y2="272.8" stroke="#60c060" stroke-width="0.5" stroke-opacity="1"/>
<circle cx="282.9" cy="272.8" r="1.9" fill="#55d055"/>
<line x1="293" y1="282.8" x2="294.3" y2="271.2" stroke="#2a9a3a" stroke-width="0.5" stroke-opacity="1"/>
<circle cx="294.3" cy="271.2" r="1.8" fill="#1d8c33"/>
<line x1="303.2" y1="274.2" x2="297" y2="293.6" stroke="#30e8f0" stroke-width="0.6" stroke-opacity="1"/>
<circle cx="303.2" cy="274.2" r="1.7" fill="#22eef5"/>
<circle cx="297" cy="293.6" r="1.7" fill="#22eef5"/>
<line x1="311.5" y1="286.4" x2="309.5" y2="298.3" stroke="#30e8f0" stroke-width="0.6" stroke-opacity="1"/>
<circle cx="309.5" cy="298.3" r="1.7" fill="#22eef5"/>
<line x1="319.4" y1="288" x2="317" y2="334" stroke="#888" stroke-width="0.6" stroke-opacity="1"/>
<circle cx="317" cy="334" r="1.7" fill="#8c8c8c"/>
<path d="M327.3,289.2 L338.2,249.3 L348,245.1 L350.2,250.6 Z" fill="#cfcfcf" fill-opacity="0.45"/>
<line x1="327.3" y1="289.2" x2="338.2" y2="249.3" stroke="#9a9a9a" stroke-width="0.4" stroke-opacity="1"/>
<line x1="327.3" y1="289.2" x2="340" y2="248.9" stroke="#9a9a9a" stroke-width="0.4" stroke-opacity="1"/>
<line x1="327.3" y1="289.2" x2="341.8" y2="248.3" stroke="#9a9a9a" stroke-width="0.4" stroke-opacity="1"/>
<line x1="327.3" y1="289.2" x2="343.4" y2="247.5" stroke="#9a9a9a" stroke-width="0.4" stroke-opacity="1"/>
<line x1="327.3" y1="289.2" x2="345" y2="246.7" stroke="#9a9a9a" stroke-width="0.4" stroke-opacity="1"/>
<line x1="327.3" y1="289.2" x2="346.6" y2="245.7" stroke="#9a9a9a" stroke-width="0.4" stroke-opacity="1"/>
<line x1="327.3" y1="289.2" x2="348" y2="245.1" stroke="#9a9a9a" stroke-width="0.4" stroke-opacity="1"/>
<line x1="327.3" y1="289.2" x2="349.2" y2="246.6" stroke="#9a9a9a" stroke-width="0.4" stroke-opacity="1"/>
<line x1="327.3" y1="289.2" x2="349.8" y2="248.6" stroke="#9a9a9a" stroke-width="0.4" stroke-opacity="1"/>
<line x1="327.3" y1="289.2" x2="350.2" y2="250.6" stroke="#9a9a9a" stroke-width="0.4" stroke-opacity="1"/>
<line x1="327.3" y1="289.2" x2="357.9" y2="243.2" stroke="#8a8a8a" stroke-width="0.55" stroke-opacity="1"/>
<circle cx="338.2" cy="249.3" r="1.6" fill="#8c8c8c"/>
<circle cx="340" cy="248.9" r="1.6" fill="#8c8c8c"/>
<circle cx="341.8" cy="248.3" r="1.6" fill="#8c8c8c"/>
<circle cx="343.4" cy="247.5" r="1.6" fill="#8c8c8c"/>
<circle cx="345" cy="246.7" r="1.6" fill="#8c8c8c"/>
<circle cx="346.6" cy="245.7" r="1.6" fill="#8c8c8c"/>
<circle cx="348" cy="245.1" r="1.6" fill="#8c8c8c"/>
<circle cx="349.2" cy="246.6" r="1.6" fill="#8c8c8c"/>
<circle cx="349.8" cy="248.6" r="1.6" fill="#8c8c8c"/>
<circle cx="350.2" cy="250.6" r="1.6" fill="#8c8c8c"/>
<circle cx="357.9" cy="243.2" r="1.8" fill="#8c8c8c"/>
<line x1="366" y1="245.6" x2="384.8" y2="245.6" stroke="#606060" stroke-width="1.1" stroke-opacity="1"/>
<path d="M363,245.6 L368.6,243.2 L367.4,245.6 L368.6,248 Z" fill="#505050"/>
<text x="387.8" y="247.9" font-size="7" fill="#8c8c8c" stroke="#8c8c8c" stroke-width="0.1" textLength="6.3" lengthAdjust="spacingAndGlyphs">BL</text>
<line x1="335.5" y1="292" x2="347" y2="276.6" stroke="#30e8f0" stroke-width="0.6" stroke-opacity="1"/>
<circle cx="347" cy="276.6" r="1.7" fill="#22eef5"/>
<line x1="350.5" y1="298.3" x2="357.5" y2="290.2" stroke="#dcd6f6" stroke-width="0.6" stroke-opacity="1"/>
<line x1="351" y1="298.6" x2="357.6" y2="293.2" stroke="#dcd6f6" stroke-width="0.6" stroke-opacity="1"/>
<line x1="354.5" y1="300.3" x2="361.4" y2="295.7" stroke="#dcd6f6" stroke-width="0.6" stroke-opacity="1"/>
<line x1="359.5" y1="303.6" x2="369" y2="302.2" stroke="#dcd6f6" stroke-width="0.6" stroke-opacity="1"/>
<line x1="359.5" y1="303.6" x2="371.8" y2="301.4" stroke="#dcd6f6" stroke-width="0.6" stroke-opacity="1"/>
<line x1="361" y1="305.2" x2="368.5" y2="304.4" stroke="#dcd6f6" stroke-width="0.6" stroke-opacity="1"/>
<line x1="347.5" y1="297" x2="352.4" y2="291.8" stroke="#c84a40" stroke-width="0.6" stroke-opacity="1"/>
<line x1="355.5" y1="300.8" x2="362.6" y2="298.2" stroke="#c84a40" stroke-width="0.6" stroke-opacity="1"/>
<line x1="357.5" y1="302.2" x2="367.7" y2="299.3" stroke="#c84a40" stroke-width="0.6" stroke-opacity="1"/>
<line x1="361.8" y1="306.4" x2="371.7" y2="305.8" stroke="#c84a40" stroke-width="0.6" stroke-opacity="1"/>
<line x1="362.8" y1="307.6" x2="373.6" y2="307.8" stroke="#c84a40" stroke-width="0.6" stroke-opacity="1"/>
<line x1="363.4" y1="308.4" x2="371" y2="308.6" stroke="#c84a40" stroke-width="0.6" stroke-opacity="1"/>
<line x1="363.4" y1="308.4" x2="374.6" y2="309.6" stroke="#c84a40" stroke-width="0.6" stroke-opacity="1"/>
<circle cx="357.5" cy="290.2" r="1.9" fill="#cdc6f2"/>
<circle cx="357.6" cy="293.2" r="1.9" fill="#cdc6f2"/>
<circle cx="361.4" cy="295.7" r="1.9" fill="#cdc6f2"/>
<circle cx="369" cy="302.2" r="1.9" fill="#cdc6f2"/>
<circle cx="371.8" cy="301.4" r="1.9" fill="#cdc6f2"/>
<circle cx="368.5" cy="304.4" r="1.9" fill="#cdc6f2"/>
<circle cx="352.4" cy="291.8" r="1.75" fill="#a01515"/>
<circle cx="362.6" cy="298.2" r="1.75" fill="#a01515"/>
<circle cx="367.7" cy="299.3" r="1.75" fill="#a01515"/>
<circle cx="371.7" cy="305.8" r="1.75" fill="#a01515"/>
<circle cx="373.6" cy="307.8" r="1.75" fill="#a01515"/>
<circle cx="371" cy="308.6" r="1.75" fill="#a01515"/>
<circle cx="374.6" cy="309.6" r="1.75" fill="#a01515"/>
<path d="M366,311.5 L370.8,322 L371,330 L375.6,330 L376,323.5 Z" fill="#2a52c8" fill-opacity="0.85"/>
<path d="M366.2,311.5 L371.5,321 L374.5,326 L376,323.5 Z" fill="#22a6c8"/>
<line x1="367.5" y1="313.5" x2="382.6" y2="323.3" stroke="#2ee6f0" stroke-width="1.5" stroke-opacity="1"/>
<line x1="364.3" y1="309.5" x2="375.6" y2="313.6" stroke="#f5a414" stroke-width="0.6" stroke-opacity="1"/>
<line x1="364.3" y1="309.5" x2="379" y2="314" stroke="#ee5a12" stroke-width="0.6" stroke-opacity="1"/>
<line x1="364.3" y1="309.5" x2="364.8" y2="318.6" stroke="#f0651a" stroke-width="0.6" stroke-opacity="1"/>
<line x1="364.3" y1="309.5" x2="380" y2="318.2" stroke="#6b3a1a" stroke-width="0.6" stroke-opacity="1"/>
<line x1="364.3" y1="309.5" x2="383.5" y2="320.6" stroke="#6b3a1a" stroke-width="0.6" stroke-opacity="1"/>
<line x1="364.3" y1="309.5" x2="386.3" y2="324.3" stroke="#6b3a1a" stroke-width="0.6" stroke-opacity="1"/>
<line x1="364.3" y1="309.5" x2="374.6" y2="322" stroke="#f8a818" stroke-width="0.6" stroke-opacity="1"/>
<line x1="364.3" y1="309.5" x2="378" y2="324" stroke="#f05a10" stroke-width="0.6" stroke-opacity="1"/>
<line x1="364.3" y1="309.5" x2="379" y2="318.5" stroke="#333" stroke-width="0.6" stroke-opacity="1"/>
<line x1="364.3" y1="309.5" x2="372" y2="321" stroke="#333" stroke-width="0.6" stroke-opacity="1"/>
<circle cx="375.6" cy="313.6" r="1.75" fill="#f5a414"/>
<circle cx="379" cy="314" r="1.75" fill="#ee5a12"/>
<circle cx="364.8" cy="318.6" r="1.75" fill="#f0651a"/>
<circle cx="380" cy="318.2" r="1.75" fill="#6b3a1a"/>
<circle cx="383.5" cy="320.6" r="1.75" fill="#6b3a1a"/>
<circle cx="386.3" cy="324.3" r="1.75" fill="#6b3a1a"/>
<circle cx="374.6" cy="322" r="1.75" fill="#f8a818"/>
<circle cx="378" cy="324" r="1.75" fill="#f05a10"/>
<circle cx="371.8" cy="330.2" r="1.8" fill="#2a40d8"/>
<circle cx="374.3" cy="329.6" r="1.8" fill="#2a40d8"/>
<circle cx="372.8" cy="327.8" r="1.8" fill="#2a50d0"/>
<circle cx="373.6" cy="334.2" r="1.8" fill="#6a30c8"/>
<circle cx="373.9" cy="335.8" r="1.8" fill="#6a30c8"/>
<g shape-rendering="crispEdges">
<rect x="0" y="1" width="520" height="1" fill="#000" fill-opacity="0.5"/>
<rect x="1" y="0" width="1" height="359" fill="#000" fill-opacity="0.5"/>
<rect x="0" y="357" width="520" height="1" fill="#000" fill-opacity="0.5"/>
<rect x="518" y="0" width="1" height="359" fill="#000" fill-opacity="0.5"/>
<rect x="0" y="0" width="520" height="1" fill="#000"/>
<rect x="0" y="0" width="1" height="359" fill="#000"/>
<rect x="0" y="358" width="520" height="1" fill="#111"/>
<rect x="519" y="0" width="1" height="359" fill="#111"/>
</g>
</svg>
</body></html>
